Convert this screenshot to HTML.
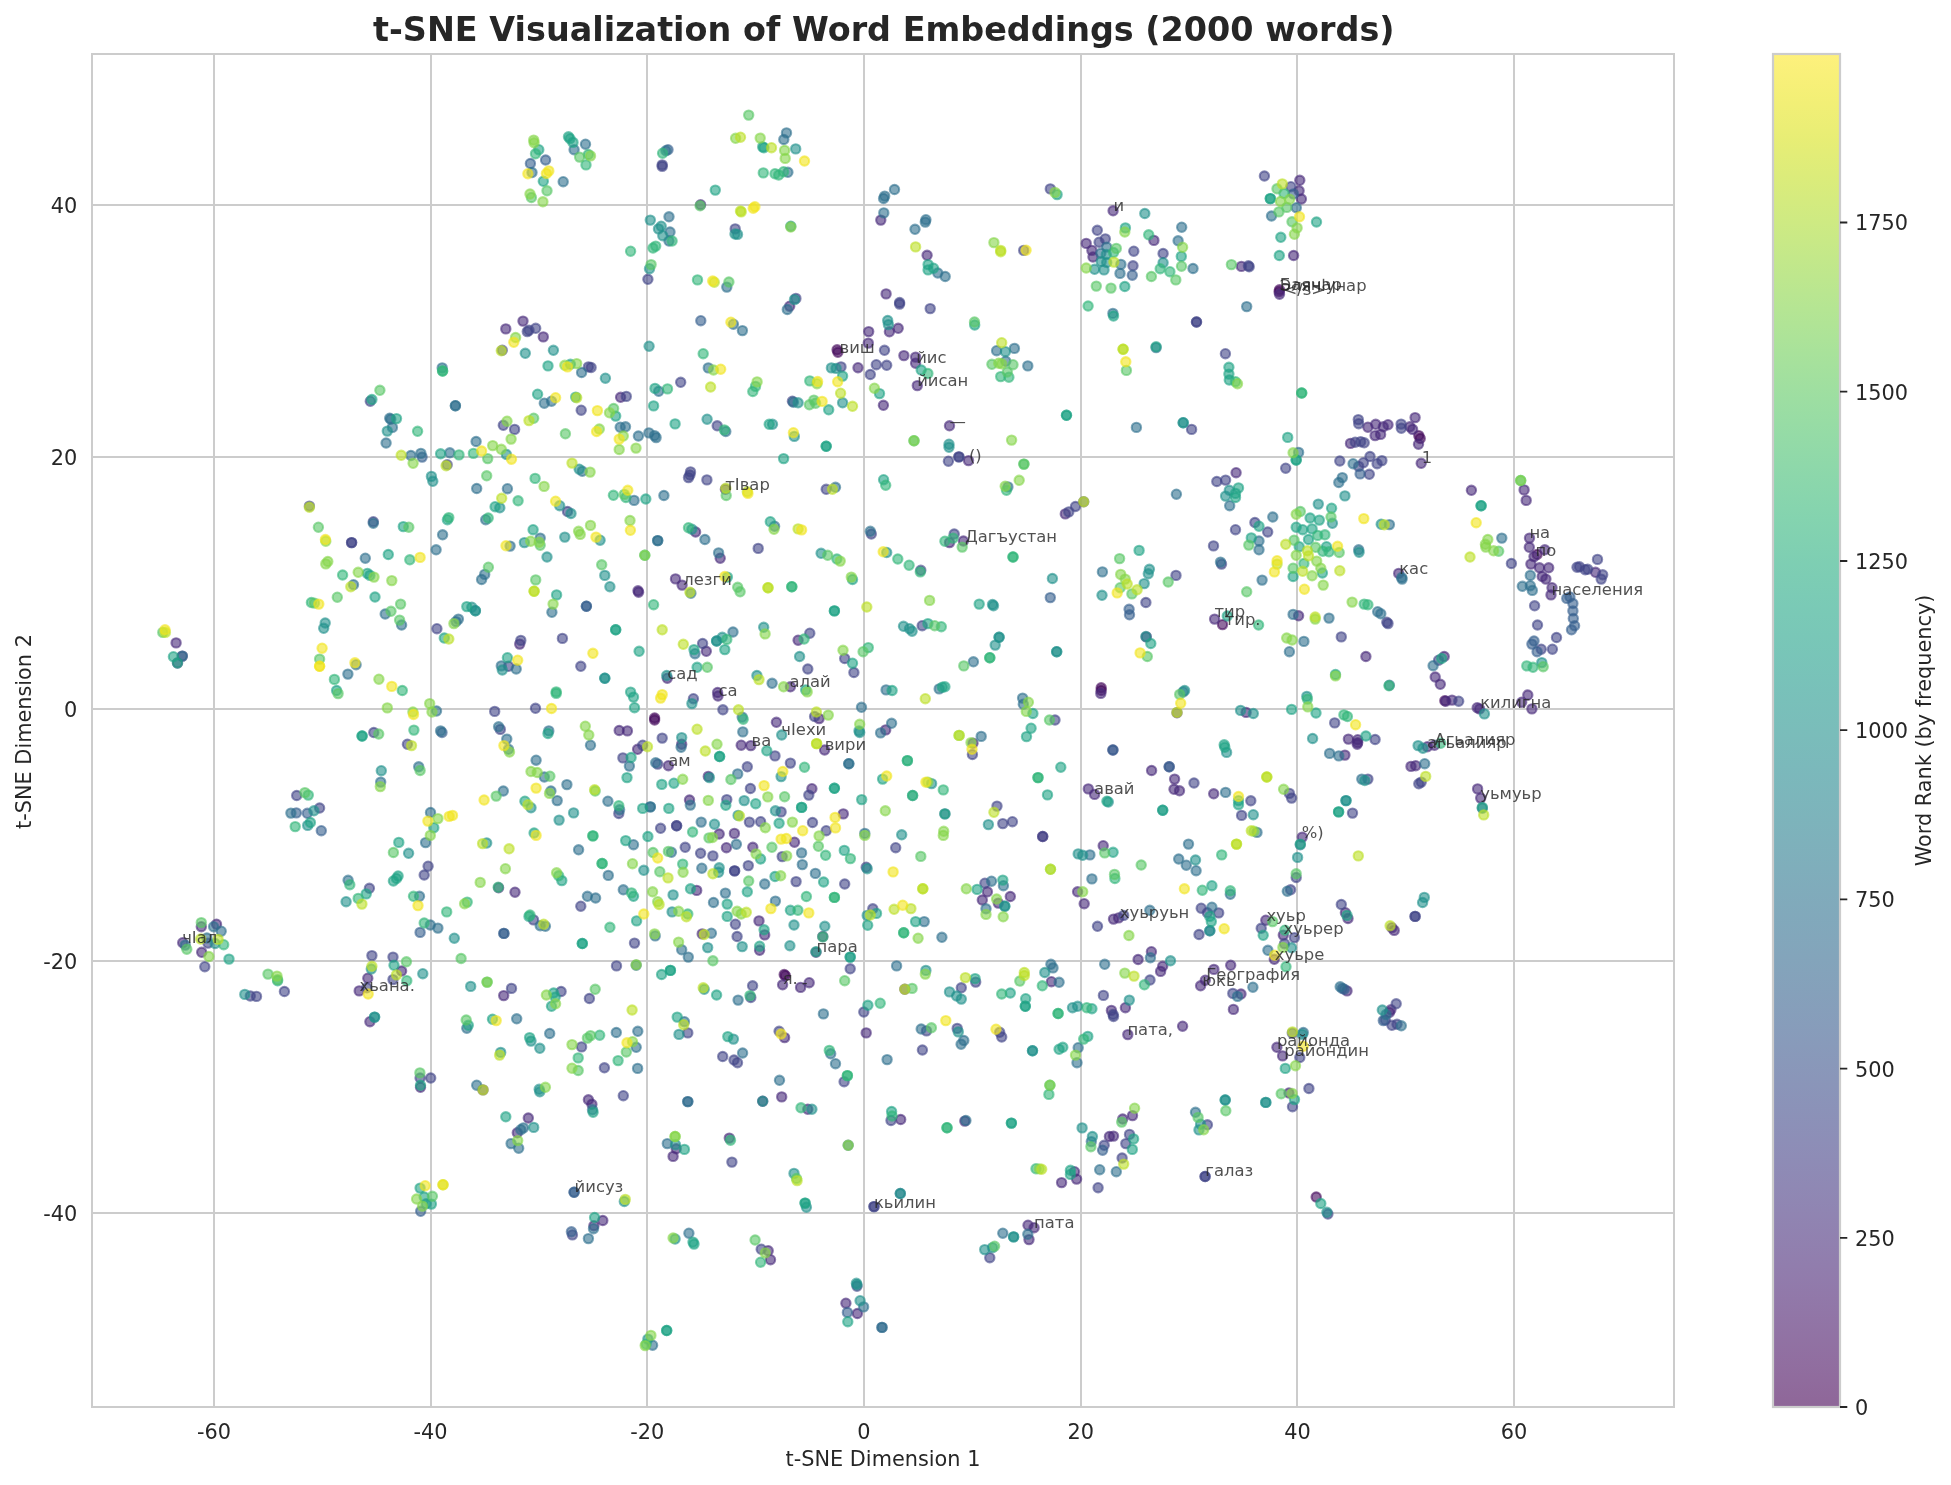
<!DOCTYPE html>
<html><head><meta charset="utf-8"><title>t-SNE Visualization of Word Embeddings</title>
<style>
html,body{margin:0;padding:0;background:#fff}
svg{display:block}
text{font-family:"DejaVu Sans","Liberation Sans",sans-serif;fill:#262626;filter:grayscale(1)}
.tk{font-size:20.83px}
.al{font-size:20.83px}
.an{font-size:16.4px;fill:#262626;fill-opacity:.8}
.p{fill:#460b5e;stroke:#460b5e}
.q{fill:#472a7a;stroke:#472a7a}
.i{fill:#414487;stroke:#414487}
.b{fill:#355f8d;stroke:#355f8d}
.s{fill:#2e6f8e;stroke:#2e6f8e}
.t{fill:#21918c;stroke:#21918c}
.e{fill:#20a386;stroke:#20a386}
.g{fill:#32b67a;stroke:#32b67a}
.m{fill:#58c765;stroke:#58c765}
.l{fill:#86d549;stroke:#86d549}
.k{fill:#bddf26;stroke:#bddf26}
.y{fill:#f1e51d;stroke:#f1e51d}
</style></head><body>
<svg width="1951" height="1485" viewBox="0 0 1951 1485">
<rect width="1951" height="1485" fill="#fff"/>
<defs><linearGradient id="cb" x1="0" y1="0" x2="0" y2="1"><stop offset="0.0000" stop-color="#fde725"/><stop offset="0.0312" stop-color="#ece51b"/><stop offset="0.0625" stop-color="#d8e219"/><stop offset="0.0938" stop-color="#c2df23"/><stop offset="0.1250" stop-color="#addc30"/><stop offset="0.1562" stop-color="#98d83e"/><stop offset="0.1875" stop-color="#84d44b"/><stop offset="0.2188" stop-color="#70cf57"/><stop offset="0.2500" stop-color="#5ec962"/><stop offset="0.2812" stop-color="#4ec36b"/><stop offset="0.3125" stop-color="#3fbc73"/><stop offset="0.3438" stop-color="#32b67a"/><stop offset="0.3750" stop-color="#28ae80"/><stop offset="0.4062" stop-color="#22a785"/><stop offset="0.4375" stop-color="#1fa088"/><stop offset="0.4688" stop-color="#1f988b"/><stop offset="0.5000" stop-color="#21918c"/><stop offset="0.5312" stop-color="#23898e"/><stop offset="0.5625" stop-color="#26828e"/><stop offset="0.5938" stop-color="#297a8e"/><stop offset="0.6250" stop-color="#2c728e"/><stop offset="0.6562" stop-color="#2f6b8e"/><stop offset="0.6875" stop-color="#33638d"/><stop offset="0.7188" stop-color="#375b8d"/><stop offset="0.7500" stop-color="#3b528b"/><stop offset="0.7812" stop-color="#3e4989"/><stop offset="0.8125" stop-color="#424086"/><stop offset="0.8438" stop-color="#453781"/><stop offset="0.8750" stop-color="#472d7b"/><stop offset="0.9062" stop-color="#482374"/><stop offset="0.9375" stop-color="#48186a"/><stop offset="0.9688" stop-color="#470d60"/><stop offset="1.0000" stop-color="#440154"/></linearGradient><clipPath id="cp"><rect x="92" y="54" width="1582" height="1353"/></clipPath></defs>
<path d="M214 54 V1407 M431 54 V1407 M647 54 V1407 M864 54 V1407 M1081 54 V1407 M1297 54 V1407 M1514 54 V1407 M92 1213 H1674 M92 961 H1674 M92 709 H1674 M92 457 H1674 M92 205 H1674" stroke="#cccccc" stroke-width="2" fill="none"/>
<g clip-path="url(#cp)" fill-opacity=".6" stroke-opacity=".6" stroke-width="2.08">
<circle class="p" cx="837.1" cy="349.8" r="4.66"/><circle class="p" cx="837.9" cy="352.3" r="4.66"/><circle class="p" cx="1279.5" cy="289.8" r="4.66"/><circle class="p" cx="1279.1" cy="291.8" r="4.66"/><circle class="p" cx="1222.5" cy="624.6" r="4.66"/><circle class="p" cx="1418.8" cy="435.6" r="4.66"/><circle class="p" cx="1420.2" cy="438.5" r="4.66"/><circle class="p" cx="1537.1" cy="554.5" r="4.66"/><circle class="p" cx="654.6" cy="718.0" r="4.66"/><circle class="p" cx="654.6" cy="720.0" r="4.66"/><circle class="p" cx="1101.2" cy="687.8" r="4.66"/><circle class="p" cx="1101.2" cy="690.5" r="4.66"/><circle class="p" cx="1444.8" cy="700.7" r="4.66"/><circle class="p" cx="784.2" cy="974.5" r="4.66"/><circle class="p" cx="785.4" cy="975.7" r="4.66"/><circle class="p" cx="1316.2" cy="1197.0" r="4.66"/><circle class="q" cx="700.6" cy="204.7" r="4.66"/><circle class="q" cx="880.8" cy="220.1" r="4.66"/><circle class="q" cx="789.7" cy="306.2" r="4.66"/><circle class="q" cx="523.0" cy="321.1" r="4.66"/><circle class="q" cx="505.8" cy="328.9" r="4.66"/><circle class="q" cx="543.3" cy="336.9" r="4.66"/><circle class="q" cx="886.1" cy="293.9" r="4.66"/><circle class="q" cx="868.7" cy="331.6" r="4.66"/><circle class="q" cx="889.4" cy="331.8" r="4.66"/><circle class="q" cx="868.3" cy="343.1" r="4.66"/><circle class="q" cx="1113.1" cy="210.8" r="4.66"/><circle class="q" cx="927.1" cy="255.3" r="4.66"/><circle class="q" cx="1153.9" cy="240.4" r="4.66"/><circle class="q" cx="1086.2" cy="243.4" r="4.66"/><circle class="q" cx="1091.9" cy="250.4" r="4.66"/><circle class="q" cx="1093.0" cy="257.0" r="4.66"/><circle class="q" cx="1241.4" cy="266.4" r="4.66"/><circle class="q" cx="1279.5" cy="294.3" r="4.66"/><circle class="q" cx="898.2" cy="328.3" r="4.66"/><circle class="q" cx="1299.8" cy="180.3" r="4.66"/><circle class="q" cx="1299.1" cy="190.8" r="4.66"/><circle class="q" cx="1301.4" cy="199.0" r="4.66"/><circle class="q" cx="1293.6" cy="255.5" r="4.66"/><circle class="q" cx="176.1" cy="642.9" r="4.66"/><circle class="q" cx="858.0" cy="367.7" r="4.66"/><circle class="q" cx="883.4" cy="405.3" r="4.66"/><circle class="q" cx="620.6" cy="397.3" r="4.66"/><circle class="q" cx="725.4" cy="489.3" r="4.66"/><circle class="q" cx="695.6" cy="532.0" r="4.66"/><circle class="q" cx="720.2" cy="558.2" r="4.66"/><circle class="q" cx="638.0" cy="590.8" r="4.66"/><circle class="q" cx="638.6" cy="592.2" r="4.66"/><circle class="q" cx="675.5" cy="578.9" r="4.66"/><circle class="q" cx="682.1" cy="585.1" r="4.66"/><circle class="q" cx="519.7" cy="644.1" r="4.66"/><circle class="q" cx="798.1" cy="640.2" r="4.66"/><circle class="q" cx="706.3" cy="651.3" r="4.66"/><circle class="q" cx="903.9" cy="355.6" r="4.66"/><circle class="q" cx="915.6" cy="357.1" r="4.66"/><circle class="q" cx="915.6" cy="363.2" r="4.66"/><circle class="q" cx="917.3" cy="385.6" r="4.66"/><circle class="q" cx="949.5" cy="425.8" r="4.66"/><circle class="q" cx="968.5" cy="460.6" r="4.66"/><circle class="q" cx="1065.3" cy="513.9" r="4.66"/><circle class="q" cx="1236.1" cy="472.7" r="4.66"/><circle class="q" cx="949.5" cy="542.6" r="4.66"/><circle class="q" cx="963.4" cy="541.0" r="4.66"/><circle class="q" cx="1214.6" cy="619.1" r="4.66"/><circle class="q" cx="1146.3" cy="636.9" r="4.66"/><circle class="q" cx="1367.9" cy="427.2" r="4.66"/><circle class="q" cx="1375.7" cy="424.3" r="4.66"/><circle class="q" cx="1383.3" cy="426.8" r="4.66"/><circle class="q" cx="1388.0" cy="424.7" r="4.66"/><circle class="q" cx="1375.1" cy="435.6" r="4.66"/><circle class="q" cx="1380.6" cy="434.4" r="4.66"/><circle class="q" cx="1409.9" cy="426.8" r="4.66"/><circle class="q" cx="1412.6" cy="429.4" r="4.66"/><circle class="q" cx="1415.1" cy="417.6" r="4.66"/><circle class="q" cx="1418.5" cy="444.2" r="4.66"/><circle class="q" cx="1350.5" cy="443.4" r="4.66"/><circle class="q" cx="1421.2" cy="463.3" r="4.66"/><circle class="q" cx="1471.4" cy="490.3" r="4.66"/><circle class="q" cx="1524.1" cy="489.9" r="4.66"/><circle class="q" cx="1526.2" cy="500.4" r="4.66"/><circle class="q" cx="1529.5" cy="538.1" r="4.66"/><circle class="q" cx="1529.3" cy="547.3" r="4.66"/><circle class="q" cx="1544.8" cy="549.8" r="4.66"/><circle class="q" cx="1534.0" cy="556.6" r="4.66"/><circle class="q" cx="1530.9" cy="564.1" r="4.66"/><circle class="q" cx="1539.5" cy="567.8" r="4.66"/><circle class="q" cx="1548.7" cy="567.8" r="4.66"/><circle class="q" cx="1542.2" cy="576.5" r="4.66"/><circle class="q" cx="1545.9" cy="579.1" r="4.66"/><circle class="q" cx="1552.0" cy="587.7" r="4.66"/><circle class="q" cx="1551.0" cy="594.9" r="4.66"/><circle class="q" cx="1595.5" cy="572.3" r="4.66"/><circle class="q" cx="1398.7" cy="573.4" r="4.66"/><circle class="q" cx="1298.6" cy="615.8" r="4.66"/><circle class="q" cx="182.3" cy="656.1" r="4.66"/><circle class="q" cx="177.5" cy="663.0" r="4.66"/><circle class="q" cx="201.3" cy="926.7" r="4.66"/><circle class="q" cx="216.5" cy="924.2" r="4.66"/><circle class="q" cx="182.7" cy="942.7" r="4.66"/><circle class="q" cx="201.7" cy="952.3" r="4.66"/><circle class="q" cx="667.3" cy="678.2" r="4.66"/><circle class="q" cx="790.4" cy="686.8" r="4.66"/><circle class="q" cx="717.6" cy="692.5" r="4.66"/><circle class="q" cx="718.0" cy="696.0" r="4.66"/><circle class="q" cx="819.1" cy="718.6" r="4.66"/><circle class="q" cx="776.4" cy="722.3" r="4.66"/><circle class="q" cx="619.2" cy="730.5" r="4.66"/><circle class="q" cx="627.4" cy="730.9" r="4.66"/><circle class="q" cx="681.7" cy="744.2" r="4.66"/><circle class="q" cx="741.2" cy="745.2" r="4.66"/><circle class="q" cx="750.8" cy="745.6" r="4.66"/><circle class="q" cx="824.6" cy="750.0" r="4.66"/><circle class="q" cx="885.7" cy="729.9" r="4.66"/><circle class="q" cx="637.6" cy="749.3" r="4.66"/><circle class="q" cx="668.4" cy="765.7" r="4.66"/><circle class="q" cx="708.3" cy="776.4" r="4.66"/><circle class="q" cx="811.9" cy="788.7" r="4.66"/><circle class="q" cx="689.5" cy="800.0" r="4.66"/><circle class="q" cx="843.3" cy="813.9" r="4.66"/><circle class="q" cx="719.2" cy="834.0" r="4.66"/><circle class="q" cx="734.4" cy="833.4" r="4.66"/><circle class="q" cx="794.5" cy="842.2" r="4.66"/><circle class="q" cx="726.4" cy="847.7" r="4.66"/><circle class="q" cx="752.8" cy="847.3" r="4.66"/><circle class="q" cx="498.6" cy="887.7" r="4.66"/><circle class="q" cx="515.0" cy="892.2" r="4.66"/><circle class="q" cx="696.7" cy="890.4" r="4.66"/><circle class="q" cx="759.0" cy="920.9" r="4.66"/><circle class="q" cx="764.7" cy="934.9" r="4.66"/><circle class="q" cx="822.8" cy="936.5" r="4.66"/><circle class="q" cx="702.2" cy="933.9" r="4.66"/><circle class="q" cx="759.6" cy="950.3" r="4.66"/><circle class="q" cx="816.0" cy="952.3" r="4.66"/><circle class="q" cx="1100.8" cy="693.4" r="4.66"/><circle class="q" cx="1177.0" cy="712.8" r="4.66"/><circle class="q" cx="1246.1" cy="712.4" r="4.66"/><circle class="q" cx="973.0" cy="743.2" r="4.66"/><circle class="q" cx="1151.6" cy="770.5" r="4.66"/><circle class="q" cx="1174.6" cy="779.1" r="4.66"/><circle class="q" cx="1174.0" cy="789.3" r="4.66"/><circle class="q" cx="1179.5" cy="790.8" r="4.66"/><circle class="q" cx="1088.3" cy="788.9" r="4.66"/><circle class="q" cx="1094.6" cy="794.4" r="4.66"/><circle class="q" cx="1213.7" cy="793.8" r="4.66"/><circle class="q" cx="1042.7" cy="836.5" r="4.66"/><circle class="q" cx="1103.2" cy="845.7" r="4.66"/><circle class="q" cx="987.4" cy="891.8" r="4.66"/><circle class="q" cx="1010.3" cy="896.5" r="4.66"/><circle class="q" cx="982.3" cy="900.0" r="4.66"/><circle class="q" cx="998.3" cy="903.1" r="4.66"/><circle class="q" cx="1077.6" cy="891.8" r="4.66"/><circle class="q" cx="1084.2" cy="903.7" r="4.66"/><circle class="q" cx="1113.5" cy="919.1" r="4.66"/><circle class="q" cx="1118.6" cy="917.9" r="4.66"/><circle class="q" cx="1151.4" cy="951.7" r="4.66"/><circle class="q" cx="1365.9" cy="656.5" r="4.66"/><circle class="q" cx="1444.2" cy="656.5" r="4.66"/><circle class="q" cx="1435.2" cy="677.0" r="4.66"/><circle class="q" cx="1440.3" cy="684.3" r="4.66"/><circle class="q" cx="1445.8" cy="701.2" r="4.66"/><circle class="q" cx="1452.0" cy="700.1" r="4.66"/><circle class="q" cx="1527.8" cy="695.0" r="4.66"/><circle class="q" cx="1521.7" cy="702.2" r="4.66"/><circle class="q" cx="1531.9" cy="708.9" r="4.66"/><circle class="q" cx="1477.2" cy="707.7" r="4.66"/><circle class="q" cx="1479.6" cy="708.9" r="4.66"/><circle class="q" cx="1348.4" cy="739.1" r="4.66"/><circle class="q" cx="1357.7" cy="739.7" r="4.66"/><circle class="q" cx="1357.7" cy="742.6" r="4.66"/><circle class="q" cx="1357.2" cy="744.2" r="4.66"/><circle class="q" cx="1344.9" cy="755.1" r="4.66"/><circle class="q" cx="1427.4" cy="746.7" r="4.66"/><circle class="q" cx="1434.5" cy="745.2" r="4.66"/><circle class="q" cx="1411.0" cy="766.4" r="4.66"/><circle class="q" cx="1415.7" cy="765.7" r="4.66"/><circle class="q" cx="1477.6" cy="788.9" r="4.66"/><circle class="q" cx="1480.7" cy="798.1" r="4.66"/><circle class="q" cx="1302.3" cy="837.1" r="4.66"/><circle class="q" cx="1345.4" cy="912.7" r="4.66"/><circle class="q" cx="1348.0" cy="918.5" r="4.66"/><circle class="q" cx="1391.9" cy="927.7" r="4.66"/><circle class="q" cx="1394.2" cy="930.4" r="4.66"/><circle class="q" cx="1265.8" cy="920.2" r="4.66"/><circle class="q" cx="1283.3" cy="935.1" r="4.66"/><circle class="q" cx="1274.3" cy="959.3" r="4.66"/><circle class="q" cx="401.6" cy="971.0" r="4.66"/><circle class="q" cx="367.8" cy="978.2" r="4.66"/><circle class="q" cx="359.2" cy="990.9" r="4.66"/><circle class="q" cx="369.9" cy="1021.7" r="4.66"/><circle class="q" cx="420.5" cy="1087.3" r="4.66"/><circle class="q" cx="483.0" cy="1089.9" r="4.66"/><circle class="q" cx="503.7" cy="995.6" r="4.66"/><circle class="q" cx="782.6" cy="984.8" r="4.66"/><circle class="q" cx="800.6" cy="987.4" r="4.66"/><circle class="q" cx="809.2" cy="982.7" r="4.66"/><circle class="q" cx="784.6" cy="1037.6" r="4.66"/><circle class="q" cx="866.2" cy="1032.9" r="4.66"/><circle class="q" cx="588.4" cy="1099.8" r="4.66"/><circle class="q" cx="591.9" cy="1104.3" r="4.66"/><circle class="q" cx="762.7" cy="1101.2" r="4.66"/><circle class="q" cx="781.7" cy="1096.9" r="4.66"/><circle class="q" cx="807.8" cy="1109.2" r="4.66"/><circle class="q" cx="528.3" cy="1118.0" r="4.66"/><circle class="q" cx="517.3" cy="1132.8" r="4.66"/><circle class="q" cx="676.2" cy="1148.8" r="4.66"/><circle class="q" cx="673.1" cy="1156.4" r="4.66"/><circle class="q" cx="729.3" cy="1138.1" r="4.66"/><circle class="q" cx="602.8" cy="1220.5" r="4.66"/><circle class="q" cx="593.9" cy="1225.7" r="4.66"/><circle class="q" cx="768.2" cy="1250.7" r="4.66"/><circle class="q" cx="904.8" cy="989.3" r="4.66"/><circle class="q" cx="1051.4" cy="981.7" r="4.66"/><circle class="q" cx="1138.1" cy="959.5" r="4.66"/><circle class="q" cx="1162.7" cy="966.3" r="4.66"/><circle class="q" cx="1160.6" cy="971.4" r="4.66"/><circle class="q" cx="1213.9" cy="969.4" r="4.66"/><circle class="q" cx="1230.7" cy="965.3" r="4.66"/><circle class="q" cx="1205.3" cy="980.2" r="4.66"/><circle class="q" cx="1200.6" cy="985.8" r="4.66"/><circle class="q" cx="1125.4" cy="1007.7" r="4.66"/><circle class="q" cx="1111.4" cy="1010.4" r="4.66"/><circle class="q" cx="1241.0" cy="994.0" r="4.66"/><circle class="q" cx="1233.4" cy="1009.4" r="4.66"/><circle class="q" cx="1182.6" cy="1026.2" r="4.66"/><circle class="q" cx="1127.8" cy="1034.6" r="4.66"/><circle class="q" cx="900.7" cy="1119.5" r="4.66"/><circle class="q" cx="964.8" cy="1121.1" r="4.66"/><circle class="q" cx="1276.9" cy="1047.3" r="4.66"/><circle class="q" cx="1282.6" cy="1055.9" r="4.66"/><circle class="q" cx="1132.5" cy="1115.6" r="4.66"/><circle class="q" cx="1122.7" cy="1119.0" r="4.66"/><circle class="q" cx="1109.4" cy="1136.5" r="4.66"/><circle class="q" cx="1113.5" cy="1136.1" r="4.66"/><circle class="q" cx="1074.5" cy="1171.7" r="4.66"/><circle class="q" cx="1076.6" cy="1179.1" r="4.66"/><circle class="q" cx="1061.6" cy="1182.6" r="4.66"/><circle class="q" cx="1028.0" cy="1225.2" r="4.66"/><circle class="q" cx="1034.1" cy="1227.7" r="4.66"/><circle class="q" cx="1029.0" cy="1239.6" r="4.66"/><circle class="q" cx="1289.0" cy="1093.0" r="4.66"/><circle class="q" cx="1347.0" cy="990.9" r="4.66"/><circle class="q" cx="1390.9" cy="1009.8" r="4.66"/><circle class="q" cx="1389.4" cy="1012.4" r="4.66"/><circle class="q" cx="770.5" cy="1259.7" r="4.66"/><circle class="q" cx="845.9" cy="1303.2" r="4.66"/><circle class="q" cx="857.4" cy="1313.5" r="4.66"/><circle class="i" cx="662.2" cy="164.9" r="4.66"/><circle class="i" cx="662.2" cy="166.4" r="4.66"/><circle class="i" cx="647.9" cy="279.3" r="4.66"/><circle class="i" cx="735.2" cy="228.9" r="4.66"/><circle class="i" cx="795.9" cy="298.4" r="4.66"/><circle class="i" cx="535.7" cy="328.3" r="4.66"/><circle class="i" cx="529.0" cy="330.2" r="4.66"/><circle class="i" cx="527.3" cy="331.6" r="4.66"/><circle class="i" cx="502.3" cy="350.3" r="4.66"/><circle class="i" cx="884.5" cy="350.3" r="4.66"/><circle class="i" cx="1050.3" cy="188.9" r="4.66"/><circle class="i" cx="1023.7" cy="250.4" r="4.66"/><circle class="i" cx="1097.3" cy="230.3" r="4.66"/><circle class="i" cx="1105.3" cy="238.9" r="4.66"/><circle class="i" cx="1099.1" cy="242.2" r="4.66"/><circle class="i" cx="1133.8" cy="251.2" r="4.66"/><circle class="i" cx="1163.1" cy="253.5" r="4.66"/><circle class="i" cx="1133.0" cy="265.8" r="4.66"/><circle class="i" cx="1248.4" cy="265.8" r="4.66"/><circle class="i" cx="1249.2" cy="266.8" r="4.66"/><circle class="i" cx="1196.5" cy="322.0" r="4.66"/><circle class="i" cx="1196.5" cy="322.0" r="4.66"/><circle class="i" cx="899.6" cy="302.5" r="4.66"/><circle class="i" cx="899.6" cy="304.1" r="4.66"/><circle class="i" cx="930.2" cy="308.6" r="4.66"/><circle class="i" cx="1225.4" cy="353.7" r="4.66"/><circle class="i" cx="1264.4" cy="176.0" r="4.66"/><circle class="i" cx="1290.9" cy="186.7" r="4.66"/><circle class="i" cx="370.3" cy="401.2" r="4.66"/><circle class="i" cx="447.2" cy="464.7" r="4.66"/><circle class="i" cx="309.4" cy="506.1" r="4.66"/><circle class="i" cx="351.6" cy="542.6" r="4.66"/><circle class="i" cx="351.6" cy="542.6" r="4.66"/><circle class="i" cx="373.3" cy="521.7" r="4.66"/><circle class="i" cx="436.9" cy="628.7" r="4.66"/><circle class="i" cx="588.4" cy="366.9" r="4.66"/><circle class="i" cx="591.1" cy="367.5" r="4.66"/><circle class="i" cx="680.7" cy="382.3" r="4.66"/><circle class="i" cx="841.0" cy="366.9" r="4.66"/><circle class="i" cx="876.3" cy="364.7" r="4.66"/><circle class="i" cx="886.7" cy="365.3" r="4.66"/><circle class="i" cx="870.3" cy="374.5" r="4.66"/><circle class="i" cx="581.2" cy="410.2" r="4.66"/><circle class="i" cx="626.3" cy="396.4" r="4.66"/><circle class="i" cx="792.4" cy="401.2" r="4.66"/><circle class="i" cx="503.3" cy="425.3" r="4.66"/><circle class="i" cx="514.6" cy="429.4" r="4.66"/><circle class="i" cx="717.2" cy="425.8" r="4.66"/><circle class="i" cx="690.5" cy="471.9" r="4.66"/><circle class="i" cx="689.9" cy="475.0" r="4.66"/><circle class="i" cx="688.5" cy="477.6" r="4.66"/><circle class="i" cx="706.9" cy="479.9" r="4.66"/><circle class="i" cx="826.2" cy="489.3" r="4.66"/><circle class="i" cx="567.5" cy="511.5" r="4.66"/><circle class="i" cx="871.3" cy="534.0" r="4.66"/><circle class="i" cx="758.2" cy="548.4" r="4.66"/><circle class="i" cx="562.4" cy="638.4" r="4.66"/><circle class="i" cx="520.8" cy="640.4" r="4.66"/><circle class="i" cx="702.6" cy="643.5" r="4.66"/><circle class="i" cx="809.8" cy="633.2" r="4.66"/><circle class="i" cx="1191.6" cy="429.4" r="4.66"/><circle class="i" cx="948.4" cy="461.2" r="4.66"/><circle class="i" cx="958.9" cy="456.9" r="4.66"/><circle class="i" cx="958.9" cy="456.9" r="4.66"/><circle class="i" cx="1075.5" cy="506.5" r="4.66"/><circle class="i" cx="1083.7" cy="501.8" r="4.66"/><circle class="i" cx="1068.8" cy="511.9" r="4.66"/><circle class="i" cx="1216.8" cy="481.5" r="4.66"/><circle class="i" cx="1225.6" cy="480.1" r="4.66"/><circle class="i" cx="1285.7" cy="468.2" r="4.66"/><circle class="i" cx="1254.9" cy="522.5" r="4.66"/><circle class="i" cx="1235.5" cy="529.7" r="4.66"/><circle class="i" cx="1267.7" cy="532.0" r="4.66"/><circle class="i" cx="1213.5" cy="545.9" r="4.66"/><circle class="i" cx="954.2" cy="534.0" r="4.66"/><circle class="i" cx="920.8" cy="570.3" r="4.66"/><circle class="i" cx="1221.5" cy="564.1" r="4.66"/><circle class="i" cx="1176.0" cy="575.4" r="4.66"/><circle class="i" cx="1145.9" cy="602.5" r="4.66"/><circle class="i" cx="922.2" cy="625.7" r="4.66"/><circle class="i" cx="1358.3" cy="419.6" r="4.66"/><circle class="i" cx="1358.7" cy="423.7" r="4.66"/><circle class="i" cx="1401.1" cy="424.1" r="4.66"/><circle class="i" cx="1401.3" cy="428.2" r="4.66"/><circle class="i" cx="1355.2" cy="442.2" r="4.66"/><circle class="i" cx="1360.7" cy="441.7" r="4.66"/><circle class="i" cx="1364.2" cy="442.8" r="4.66"/><circle class="i" cx="1339.8" cy="461.0" r="4.66"/><circle class="i" cx="1358.7" cy="466.4" r="4.66"/><circle class="i" cx="1363.4" cy="462.7" r="4.66"/><circle class="i" cx="1370.0" cy="456.5" r="4.66"/><circle class="i" cx="1377.1" cy="463.7" r="4.66"/><circle class="i" cx="1381.9" cy="460.6" r="4.66"/><circle class="i" cx="1369.3" cy="474.3" r="4.66"/><circle class="i" cx="1511.4" cy="563.5" r="4.66"/><circle class="i" cx="1597.5" cy="559.4" r="4.66"/><circle class="i" cx="1577.0" cy="567.2" r="4.66"/><circle class="i" cx="1579.5" cy="566.8" r="4.66"/><circle class="i" cx="1585.2" cy="569.7" r="4.66"/><circle class="i" cx="1587.7" cy="569.3" r="4.66"/><circle class="i" cx="1602.7" cy="574.8" r="4.66"/><circle class="i" cx="1601.2" cy="579.1" r="4.66"/><circle class="i" cx="1534.6" cy="605.8" r="4.66"/><circle class="i" cx="1537.5" cy="625.0" r="4.66"/><circle class="i" cx="1556.5" cy="637.5" r="4.66"/><circle class="i" cx="1541.2" cy="649.2" r="4.66"/><circle class="i" cx="1552.4" cy="649.2" r="4.66"/><circle class="i" cx="1386.8" cy="622.2" r="4.66"/><circle class="i" cx="1388.0" cy="623.6" r="4.66"/><circle class="i" cx="1341.3" cy="636.9" r="4.66"/><circle class="i" cx="373.8" cy="732.5" r="4.66"/><circle class="i" cx="407.4" cy="744.2" r="4.66"/><circle class="i" cx="296.7" cy="795.5" r="4.66"/><circle class="i" cx="319.6" cy="808.0" r="4.66"/><circle class="i" cx="428.1" cy="866.2" r="4.66"/><circle class="i" cx="424.2" cy="875.0" r="4.66"/><circle class="i" cx="369.4" cy="888.3" r="4.66"/><circle class="i" cx="207.9" cy="943.1" r="4.66"/><circle class="i" cx="508.5" cy="666.3" r="4.66"/><circle class="i" cx="580.8" cy="666.3" r="4.66"/><circle class="i" cx="807.8" cy="669.0" r="4.66"/><circle class="i" cx="844.7" cy="658.5" r="4.66"/><circle class="i" cx="853.9" cy="672.5" r="4.66"/><circle class="i" cx="693.4" cy="698.7" r="4.66"/><circle class="i" cx="722.9" cy="709.8" r="4.66"/><circle class="i" cx="494.7" cy="711.4" r="4.66"/><circle class="i" cx="535.5" cy="708.3" r="4.66"/><circle class="i" cx="814.6" cy="716.5" r="4.66"/><circle class="i" cx="500.3" cy="729.4" r="4.66"/><circle class="i" cx="662.2" cy="738.1" r="4.66"/><circle class="i" cx="775.0" cy="755.9" r="4.66"/><circle class="i" cx="642.7" cy="745.2" r="4.66"/><circle class="i" cx="622.9" cy="757.9" r="4.66"/><circle class="i" cx="657.7" cy="764.1" r="4.66"/><circle class="i" cx="747.3" cy="766.8" r="4.66"/><circle class="i" cx="790.4" cy="763.1" r="4.66"/><circle class="i" cx="750.4" cy="788.5" r="4.66"/><circle class="i" cx="808.8" cy="795.1" r="4.66"/><circle class="i" cx="618.8" cy="813.5" r="4.66"/><circle class="i" cx="726.8" cy="799.6" r="4.66"/><circle class="i" cx="781.1" cy="811.9" r="4.66"/><circle class="i" cx="749.4" cy="822.1" r="4.66"/><circle class="i" cx="760.6" cy="821.7" r="4.66"/><circle class="i" cx="812.5" cy="822.5" r="4.66"/><circle class="i" cx="660.6" cy="828.3" r="4.66"/><circle class="i" cx="676.6" cy="825.8" r="4.66"/><circle class="i" cx="676.6" cy="825.8" r="4.66"/><circle class="i" cx="826.2" cy="830.7" r="4.66"/><circle class="i" cx="685.2" cy="847.3" r="4.66"/><circle class="i" cx="700.6" cy="853.3" r="4.66"/><circle class="i" cx="712.9" cy="855.9" r="4.66"/><circle class="i" cx="782.2" cy="856.6" r="4.66"/><circle class="i" cx="734.6" cy="870.9" r="4.66"/><circle class="i" cx="734.6" cy="870.9" r="4.66"/><circle class="i" cx="748.3" cy="865.6" r="4.66"/><circle class="i" cx="866.2" cy="867.2" r="4.66"/><circle class="i" cx="796.1" cy="881.6" r="4.66"/><circle class="i" cx="844.7" cy="884.0" r="4.66"/><circle class="i" cx="580.8" cy="906.2" r="4.66"/><circle class="i" cx="872.8" cy="908.8" r="4.66"/><circle class="i" cx="533.5" cy="919.9" r="4.66"/><circle class="i" cx="735.4" cy="924.2" r="4.66"/><circle class="i" cx="737.1" cy="936.5" r="4.66"/><circle class="i" cx="634.5" cy="943.1" r="4.66"/><circle class="i" cx="1055.0" cy="720.0" r="4.66"/><circle class="i" cx="972.4" cy="754.5" r="4.66"/><circle class="i" cx="1112.9" cy="750.0" r="4.66"/><circle class="i" cx="1169.2" cy="766.8" r="4.66"/><circle class="i" cx="1194.0" cy="783.0" r="4.66"/><circle class="i" cx="1250.8" cy="800.8" r="4.66"/><circle class="i" cx="1241.6" cy="815.4" r="4.66"/><circle class="i" cx="997.0" cy="806.1" r="4.66"/><circle class="i" cx="1002.8" cy="823.6" r="4.66"/><circle class="i" cx="1012.4" cy="821.7" r="4.66"/><circle class="i" cx="895.7" cy="847.7" r="4.66"/><circle class="i" cx="1042.7" cy="836.5" r="4.66"/><circle class="i" cx="984.9" cy="883.2" r="4.66"/><circle class="i" cx="1123.7" cy="915.4" r="4.66"/><circle class="i" cx="1097.5" cy="926.3" r="4.66"/><circle class="i" cx="1201.2" cy="908.2" r="4.66"/><circle class="i" cx="1218.7" cy="912.9" r="4.66"/><circle class="i" cx="1207.4" cy="912.7" r="4.66"/><circle class="i" cx="1199.0" cy="934.5" r="4.66"/><circle class="i" cx="1289.4" cy="793.4" r="4.66"/><circle class="i" cx="1438.6" cy="660.2" r="4.66"/><circle class="i" cx="1458.7" cy="701.2" r="4.66"/><circle class="i" cx="1334.7" cy="722.9" r="4.66"/><circle class="i" cx="1375.1" cy="739.5" r="4.66"/><circle class="i" cx="1421.2" cy="782.1" r="4.66"/><circle class="i" cx="1418.8" cy="783.8" r="4.66"/><circle class="i" cx="1367.9" cy="779.1" r="4.66"/><circle class="i" cx="1291.6" cy="798.1" r="4.66"/><circle class="i" cx="1352.5" cy="813.1" r="4.66"/><circle class="i" cx="1296.2" cy="877.5" r="4.66"/><circle class="i" cx="1290.6" cy="889.8" r="4.66"/><circle class="i" cx="1415.1" cy="916.4" r="4.66"/><circle class="i" cx="1415.1" cy="916.4" r="4.66"/><circle class="i" cx="1341.3" cy="904.5" r="4.66"/><circle class="i" cx="1261.2" cy="928.3" r="4.66"/><circle class="i" cx="1294.4" cy="937.6" r="4.66"/><circle class="i" cx="1284.5" cy="943.7" r="4.66"/><circle class="i" cx="204.8" cy="966.7" r="4.66"/><circle class="i" cx="371.9" cy="955.6" r="4.66"/><circle class="i" cx="393.0" cy="957.1" r="4.66"/><circle class="i" cx="284.4" cy="991.5" r="4.66"/><circle class="i" cx="250.3" cy="996.0" r="4.66"/><circle class="i" cx="256.5" cy="996.4" r="4.66"/><circle class="i" cx="393.0" cy="979.6" r="4.66"/><circle class="i" cx="366.8" cy="987.8" r="4.66"/><circle class="i" cx="420.1" cy="1078.0" r="4.66"/><circle class="i" cx="430.7" cy="1078.0" r="4.66"/><circle class="i" cx="850.2" cy="968.8" r="4.66"/><circle class="i" cx="616.5" cy="965.9" r="4.66"/><circle class="i" cx="511.5" cy="988.4" r="4.66"/><circle class="i" cx="561.1" cy="991.5" r="4.66"/><circle class="i" cx="589.4" cy="998.5" r="4.66"/><circle class="i" cx="752.6" cy="985.8" r="4.66"/><circle class="i" cx="750.8" cy="997.5" r="4.66"/><circle class="i" cx="863.8" cy="1012.0" r="4.66"/><circle class="i" cx="687.8" cy="1032.9" r="4.66"/><circle class="i" cx="581.6" cy="1046.9" r="4.66"/><circle class="i" cx="604.4" cy="1067.8" r="4.66"/><circle class="i" cx="779.1" cy="1031.3" r="4.66"/><circle class="i" cx="722.7" cy="1056.5" r="4.66"/><circle class="i" cx="734.0" cy="1060.0" r="4.66"/><circle class="i" cx="737.5" cy="1062.7" r="4.66"/><circle class="i" cx="844.1" cy="1081.7" r="4.66"/><circle class="i" cx="623.3" cy="1095.7" r="4.66"/><circle class="i" cx="731.9" cy="1162.1" r="4.66"/><circle class="i" cx="874.0" cy="1206.6" r="4.66"/><circle class="i" cx="874.0" cy="1206.6" r="4.66"/><circle class="i" cx="572.4" cy="1234.9" r="4.66"/><circle class="i" cx="761.2" cy="1249.2" r="4.66"/><circle class="i" cx="975.7" cy="982.1" r="4.66"/><circle class="i" cx="961.3" cy="987.8" r="4.66"/><circle class="i" cx="1150.0" cy="980.0" r="4.66"/><circle class="i" cx="1103.4" cy="995.4" r="4.66"/><circle class="i" cx="1113.1" cy="1014.5" r="4.66"/><circle class="i" cx="1113.5" cy="1016.5" r="4.66"/><circle class="i" cx="1232.8" cy="993.4" r="4.66"/><circle class="i" cx="926.5" cy="1030.9" r="4.66"/><circle class="i" cx="957.2" cy="1028.4" r="4.66"/><circle class="i" cx="999.7" cy="1032.3" r="4.66"/><circle class="i" cx="1001.7" cy="1037.0" r="4.66"/><circle class="i" cx="922.4" cy="1050.0" r="4.66"/><circle class="i" cx="891.0" cy="1120.5" r="4.66"/><circle class="i" cx="1207.4" cy="1124.8" r="4.66"/><circle class="i" cx="1129.5" cy="1134.4" r="4.66"/><circle class="i" cx="1125.8" cy="1143.6" r="4.66"/><circle class="i" cx="1104.2" cy="1145.3" r="4.66"/><circle class="i" cx="1122.1" cy="1158.0" r="4.66"/><circle class="i" cx="1098.1" cy="1187.7" r="4.66"/><circle class="i" cx="1205.1" cy="1176.5" r="4.66"/><circle class="i" cx="1205.1" cy="1176.5" r="4.66"/><circle class="i" cx="1396.2" cy="1003.8" r="4.66"/><circle class="i" cx="1385.3" cy="1020.0" r="4.66"/><circle class="i" cx="1391.9" cy="1025.3" r="4.66"/><circle class="i" cx="1397.0" cy="1024.3" r="4.66"/><circle class="i" cx="1292.3" cy="1033.1" r="4.66"/><circle class="i" cx="1299.8" cy="1057.5" r="4.66"/><circle class="i" cx="1308.9" cy="1088.5" r="4.66"/><circle class="i" cx="1292.5" cy="1106.7" r="4.66"/><circle class="i" cx="1327.9" cy="1214.0" r="4.66"/><circle class="i" cx="857.0" cy="1286.2" r="4.66"/><circle class="i" cx="989.8" cy="1257.7" r="4.66"/><circle class="b" cx="530.4" cy="163.5" r="4.66"/><circle class="b" cx="545.6" cy="160.0" r="4.66"/><circle class="b" cx="668.0" cy="149.7" r="4.66"/><circle class="b" cx="700.8" cy="320.7" r="4.66"/><circle class="b" cx="1132.3" cy="275.2" r="4.66"/><circle class="b" cx="1293.4" cy="193.9" r="4.66"/><circle class="b" cx="422.1" cy="457.1" r="4.66"/><circle class="b" cx="586.4" cy="606.2" r="4.66"/><circle class="b" cx="586.4" cy="606.2" r="4.66"/><circle class="b" cx="1050.3" cy="597.6" r="4.66"/><circle class="b" cx="1129.1" cy="609.3" r="4.66"/><circle class="b" cx="1129.5" cy="614.8" r="4.66"/><circle class="b" cx="1360.1" cy="473.9" r="4.66"/><circle class="b" cx="1566.8" cy="598.4" r="4.66"/><circle class="b" cx="1569.9" cy="597.0" r="4.66"/><circle class="b" cx="1572.9" cy="603.5" r="4.66"/><circle class="b" cx="1572.9" cy="610.9" r="4.66"/><circle class="b" cx="1573.3" cy="618.5" r="4.66"/><circle class="b" cx="1574.6" cy="625.7" r="4.66"/><circle class="b" cx="1571.5" cy="629.8" r="4.66"/><circle class="b" cx="1534.0" cy="641.0" r="4.66"/><circle class="b" cx="1531.9" cy="644.1" r="4.66"/><circle class="b" cx="1537.1" cy="651.7" r="4.66"/><circle class="b" cx="442.0" cy="732.5" r="4.66"/><circle class="b" cx="296.3" cy="812.9" r="4.66"/><circle class="b" cx="307.3" cy="813.3" r="4.66"/><circle class="b" cx="321.3" cy="830.7" r="4.66"/><circle class="b" cx="420.1" cy="932.4" r="4.66"/><circle class="b" cx="503.9" cy="933.4" r="4.66"/><circle class="b" cx="503.9" cy="933.4" r="4.66"/><circle class="b" cx="1112.9" cy="750.0" r="4.66"/><circle class="b" cx="1169.2" cy="766.8" r="4.66"/><circle class="b" cx="420.7" cy="1211.3" r="4.66"/><circle class="b" cx="687.8" cy="1101.6" r="4.66"/><circle class="b" cx="574.1" cy="1192.2" r="4.66"/><circle class="b" cx="574.1" cy="1192.2" r="4.66"/><circle class="b" cx="571.4" cy="1231.8" r="4.66"/><circle class="b" cx="1102.6" cy="1150.2" r="4.66"/><circle class="b" cx="1342.3" cy="988.4" r="4.66"/><circle class="b" cx="1344.3" cy="989.3" r="4.66"/><circle class="b" cx="1383.3" cy="1020.6" r="4.66"/><circle class="b" cx="847.4" cy="1312.4" r="4.66"/><circle class="b" cx="882.0" cy="1327.4" r="4.66"/><circle class="s" cx="532.0" cy="172.5" r="4.66"/><circle class="s" cx="563.2" cy="181.7" r="4.66"/><circle class="s" cx="574.1" cy="149.7" r="4.66"/><circle class="s" cx="585.5" cy="144.2" r="4.66"/><circle class="s" cx="665.9" cy="150.8" r="4.66"/><circle class="s" cx="786.5" cy="132.9" r="4.66"/><circle class="s" cx="783.8" cy="139.5" r="4.66"/><circle class="s" cx="787.9" cy="172.3" r="4.66"/><circle class="s" cx="884.7" cy="196.1" r="4.66"/><circle class="s" cx="883.6" cy="198.5" r="4.66"/><circle class="s" cx="883.8" cy="212.9" r="4.66"/><circle class="s" cx="669.0" cy="216.8" r="4.66"/><circle class="s" cx="670.0" cy="232.0" r="4.66"/><circle class="s" cx="669.0" cy="241.0" r="4.66"/><circle class="s" cx="726.8" cy="287.1" r="4.66"/><circle class="s" cx="787.3" cy="309.5" r="4.66"/><circle class="s" cx="733.4" cy="324.2" r="4.66"/><circle class="s" cx="742.4" cy="330.6" r="4.66"/><circle class="s" cx="894.5" cy="189.5" r="4.66"/><circle class="s" cx="925.9" cy="219.7" r="4.66"/><circle class="s" cx="925.3" cy="222.1" r="4.66"/><circle class="s" cx="915.0" cy="229.3" r="4.66"/><circle class="s" cx="937.8" cy="273.0" r="4.66"/><circle class="s" cx="945.2" cy="276.5" r="4.66"/><circle class="s" cx="1181.7" cy="227.2" r="4.66"/><circle class="s" cx="1178.1" cy="240.8" r="4.66"/><circle class="s" cx="1106.7" cy="247.1" r="4.66"/><circle class="s" cx="1100.8" cy="253.3" r="4.66"/><circle class="s" cx="1120.9" cy="264.4" r="4.66"/><circle class="s" cx="1193.0" cy="268.5" r="4.66"/><circle class="s" cx="1120.0" cy="273.4" r="4.66"/><circle class="s" cx="1246.7" cy="306.6" r="4.66"/><circle class="s" cx="1112.9" cy="313.4" r="4.66"/><circle class="s" cx="1014.4" cy="348.4" r="4.66"/><circle class="s" cx="996.6" cy="350.7" r="4.66"/><circle class="s" cx="1156.1" cy="347.6" r="4.66"/><circle class="s" cx="1296.3" cy="207.7" r="4.66"/><circle class="s" cx="1271.5" cy="216.0" r="4.66"/><circle class="s" cx="442.2" cy="367.9" r="4.66"/><circle class="s" cx="455.4" cy="405.7" r="4.66"/><circle class="s" cx="455.4" cy="405.7" r="4.66"/><circle class="s" cx="389.7" cy="418.2" r="4.66"/><circle class="s" cx="390.8" cy="419.2" r="4.66"/><circle class="s" cx="392.4" cy="427.4" r="4.66"/><circle class="s" cx="386.1" cy="443.0" r="4.66"/><circle class="s" cx="476.1" cy="441.5" r="4.66"/><circle class="s" cx="410.9" cy="455.5" r="4.66"/><circle class="s" cx="420.9" cy="453.4" r="4.66"/><circle class="s" cx="449.8" cy="452.8" r="4.66"/><circle class="s" cx="476.7" cy="488.5" r="4.66"/><circle class="s" cx="373.3" cy="523.3" r="4.66"/><circle class="s" cx="485.7" cy="519.7" r="4.66"/><circle class="s" cx="442.6" cy="534.8" r="4.66"/><circle class="s" cx="436.1" cy="549.8" r="4.66"/><circle class="s" cx="365.3" cy="558.2" r="4.66"/><circle class="s" cx="353.5" cy="584.7" r="4.66"/><circle class="s" cx="484.7" cy="574.4" r="4.66"/><circle class="s" cx="481.6" cy="579.5" r="4.66"/><circle class="s" cx="385.2" cy="614.0" r="4.66"/><circle class="s" cx="401.6" cy="625.0" r="4.66"/><circle class="s" cx="458.4" cy="619.1" r="4.66"/><circle class="s" cx="456.0" cy="621.6" r="4.66"/><circle class="s" cx="581.6" cy="372.5" r="4.66"/><circle class="s" cx="708.3" cy="367.9" r="4.66"/><circle class="s" cx="658.7" cy="391.3" r="4.66"/><circle class="s" cx="544.3" cy="403.2" r="4.66"/><circle class="s" cx="551.5" cy="401.2" r="4.66"/><circle class="s" cx="793.4" cy="402.2" r="4.66"/><circle class="s" cx="620.2" cy="427.2" r="4.66"/><circle class="s" cx="625.5" cy="426.8" r="4.66"/><circle class="s" cx="638.4" cy="436.0" r="4.66"/><circle class="s" cx="648.9" cy="432.9" r="4.66"/><circle class="s" cx="654.6" cy="435.6" r="4.66"/><circle class="s" cx="656.1" cy="437.6" r="4.66"/><circle class="s" cx="725.8" cy="431.5" r="4.66"/><circle class="s" cx="582.3" cy="471.3" r="4.66"/><circle class="s" cx="507.4" cy="488.7" r="4.66"/><circle class="s" cx="835.5" cy="487.3" r="4.66"/><circle class="s" cx="634.1" cy="500.4" r="4.66"/><circle class="s" cx="663.9" cy="495.5" r="4.66"/><circle class="s" cx="540.2" cy="538.1" r="4.66"/><circle class="s" cx="510.1" cy="546.1" r="4.66"/><circle class="s" cx="704.9" cy="539.5" r="4.66"/><circle class="s" cx="657.7" cy="540.6" r="4.66"/><circle class="s" cx="657.7" cy="540.6" r="4.66"/><circle class="s" cx="774.6" cy="526.2" r="4.66"/><circle class="s" cx="870.3" cy="531.3" r="4.66"/><circle class="s" cx="718.6" cy="552.9" r="4.66"/><circle class="s" cx="551.9" cy="612.3" r="4.66"/><circle class="s" cx="690.9" cy="593.3" r="4.66"/><circle class="s" cx="733.0" cy="632.0" r="4.66"/><circle class="s" cx="695.0" cy="653.7" r="4.66"/><circle class="s" cx="1005.8" cy="361.2" r="4.66"/><circle class="s" cx="1027.8" cy="365.9" r="4.66"/><circle class="s" cx="1136.4" cy="427.4" r="4.66"/><circle class="s" cx="1007.9" cy="486.9" r="4.66"/><circle class="s" cx="1229.7" cy="505.7" r="4.66"/><circle class="s" cx="1176.4" cy="494.2" r="4.66"/><circle class="s" cx="1272.8" cy="517.0" r="4.66"/><circle class="s" cx="1259.0" cy="541.0" r="4.66"/><circle class="s" cx="1259.0" cy="549.8" r="4.66"/><circle class="s" cx="1220.5" cy="562.1" r="4.66"/><circle class="s" cx="1102.4" cy="571.9" r="4.66"/><circle class="s" cx="1262.1" cy="580.1" r="4.66"/><circle class="s" cx="1289.4" cy="651.7" r="4.66"/><circle class="s" cx="1298.6" cy="452.4" r="4.66"/><circle class="s" cx="1353.1" cy="463.7" r="4.66"/><circle class="s" cx="1342.3" cy="477.6" r="4.66"/><circle class="s" cx="1338.8" cy="482.5" r="4.66"/><circle class="s" cx="1389.4" cy="524.6" r="4.66"/><circle class="s" cx="1358.7" cy="549.8" r="4.66"/><circle class="s" cx="1501.8" cy="538.1" r="4.66"/><circle class="s" cx="1530.3" cy="575.4" r="4.66"/><circle class="s" cx="1522.3" cy="586.3" r="4.66"/><circle class="s" cx="1530.3" cy="585.7" r="4.66"/><circle class="s" cx="1532.3" cy="590.4" r="4.66"/><circle class="s" cx="1401.7" cy="577.5" r="4.66"/><circle class="s" cx="1402.1" cy="579.1" r="4.66"/><circle class="s" cx="1377.7" cy="611.7" r="4.66"/><circle class="s" cx="1380.8" cy="613.8" r="4.66"/><circle class="s" cx="1293.1" cy="614.4" r="4.66"/><circle class="s" cx="1329.0" cy="618.1" r="4.66"/><circle class="s" cx="1303.9" cy="641.4" r="4.66"/><circle class="s" cx="182.3" cy="656.1" r="4.66"/><circle class="s" cx="356.1" cy="664.7" r="4.66"/><circle class="s" cx="347.9" cy="674.1" r="4.66"/><circle class="s" cx="436.5" cy="711.0" r="4.66"/><circle class="s" cx="440.6" cy="730.9" r="4.66"/><circle class="s" cx="418.7" cy="766.8" r="4.66"/><circle class="s" cx="380.7" cy="782.1" r="4.66"/><circle class="s" cx="290.9" cy="813.1" r="4.66"/><circle class="s" cx="430.5" cy="812.5" r="4.66"/><circle class="s" cx="425.6" cy="842.6" r="4.66"/><circle class="s" cx="348.1" cy="880.3" r="4.66"/><circle class="s" cx="419.5" cy="896.3" r="4.66"/><circle class="s" cx="430.3" cy="925.0" r="4.66"/><circle class="s" cx="437.9" cy="928.1" r="4.66"/><circle class="s" cx="213.6" cy="926.7" r="4.66"/><circle class="s" cx="221.2" cy="931.2" r="4.66"/><circle class="s" cx="206.9" cy="938.0" r="4.66"/><circle class="s" cx="185.3" cy="945.1" r="4.66"/><circle class="s" cx="501.3" cy="665.9" r="4.66"/><circle class="s" cx="516.2" cy="669.0" r="4.66"/><circle class="s" cx="772.1" cy="683.3" r="4.66"/><circle class="s" cx="886.1" cy="689.9" r="4.66"/><circle class="s" cx="861.5" cy="707.3" r="4.66"/><circle class="s" cx="742.2" cy="717.1" r="4.66"/><circle class="s" cx="498.6" cy="726.8" r="4.66"/><circle class="s" cx="548.8" cy="730.9" r="4.66"/><circle class="s" cx="681.1" cy="747.3" r="4.66"/><circle class="s" cx="742.8" cy="731.9" r="4.66"/><circle class="s" cx="880.6" cy="732.9" r="4.66"/><circle class="s" cx="506.8" cy="739.1" r="4.66"/><circle class="s" cx="508.5" cy="749.3" r="4.66"/><circle class="s" cx="590.5" cy="745.2" r="4.66"/><circle class="s" cx="536.1" cy="760.2" r="4.66"/><circle class="s" cx="629.4" cy="766.1" r="4.66"/><circle class="s" cx="655.7" cy="762.7" r="4.66"/><circle class="s" cx="848.8" cy="763.7" r="4.66"/><circle class="s" cx="848.8" cy="763.7" r="4.66"/><circle class="s" cx="737.7" cy="773.9" r="4.66"/><circle class="s" cx="544.3" cy="777.0" r="4.66"/><circle class="s" cx="566.9" cy="784.6" r="4.66"/><circle class="s" cx="550.9" cy="791.0" r="4.66"/><circle class="s" cx="503.3" cy="791.0" r="4.66"/><circle class="s" cx="557.2" cy="800.6" r="4.66"/><circle class="s" cx="607.9" cy="801.2" r="4.66"/><circle class="s" cx="619.6" cy="809.8" r="4.66"/><circle class="s" cx="650.3" cy="806.9" r="4.66"/><circle class="s" cx="650.3" cy="806.9" r="4.66"/><circle class="s" cx="690.3" cy="805.1" r="4.66"/><circle class="s" cx="701.2" cy="822.1" r="4.66"/><circle class="s" cx="633.5" cy="844.7" r="4.66"/><circle class="s" cx="864.8" cy="833.4" r="4.66"/><circle class="s" cx="736.4" cy="844.3" r="4.66"/><circle class="s" cx="578.6" cy="849.8" r="4.66"/><circle class="s" cx="671.4" cy="852.3" r="4.66"/><circle class="s" cx="801.6" cy="852.9" r="4.66"/><circle class="s" cx="608.3" cy="875.4" r="4.66"/><circle class="s" cx="701.8" cy="868.2" r="4.66"/><circle class="s" cx="802.3" cy="864.6" r="4.66"/><circle class="s" cx="815.4" cy="873.4" r="4.66"/><circle class="s" cx="764.7" cy="884.0" r="4.66"/><circle class="s" cx="623.3" cy="889.8" r="4.66"/><circle class="s" cx="587.4" cy="896.3" r="4.66"/><circle class="s" cx="595.6" cy="898.0" r="4.66"/><circle class="s" cx="725.4" cy="893.1" r="4.66"/><circle class="s" cx="713.5" cy="902.5" r="4.66"/><circle class="s" cx="775.4" cy="901.1" r="4.66"/><circle class="s" cx="540.2" cy="925.7" r="4.66"/><circle class="s" cx="545.4" cy="926.3" r="4.66"/><circle class="s" cx="655.2" cy="935.9" r="4.66"/><circle class="s" cx="711.4" cy="933.2" r="4.66"/><circle class="s" cx="681.7" cy="949.8" r="4.66"/><circle class="s" cx="973.4" cy="661.8" r="4.66"/><circle class="s" cx="939.2" cy="688.9" r="4.66"/><circle class="s" cx="1022.6" cy="698.1" r="4.66"/><circle class="s" cx="1023.3" cy="704.2" r="4.66"/><circle class="s" cx="1183.2" cy="691.9" r="4.66"/><circle class="s" cx="891.6" cy="723.3" r="4.66"/><circle class="s" cx="981.2" cy="736.4" r="4.66"/><circle class="s" cx="1225.6" cy="792.4" r="4.66"/><circle class="s" cx="944.9" cy="813.9" r="4.66"/><circle class="s" cx="1257.0" cy="832.4" r="4.66"/><circle class="s" cx="1188.5" cy="844.1" r="4.66"/><circle class="s" cx="1089.9" cy="854.9" r="4.66"/><circle class="s" cx="1178.7" cy="859.0" r="4.66"/><circle class="s" cx="1186.3" cy="865.2" r="4.66"/><circle class="s" cx="1196.1" cy="870.7" r="4.66"/><circle class="s" cx="1091.9" cy="878.9" r="4.66"/><circle class="s" cx="1003.4" cy="885.7" r="4.66"/><circle class="s" cx="991.5" cy="881.2" r="4.66"/><circle class="s" cx="986.0" cy="908.8" r="4.66"/><circle class="s" cx="1230.3" cy="894.3" r="4.66"/><circle class="s" cx="924.2" cy="921.6" r="4.66"/><circle class="s" cx="941.9" cy="937.3" r="4.66"/><circle class="s" cx="1149.8" cy="910.3" r="4.66"/><circle class="s" cx="1211.9" cy="907.2" r="4.66"/><circle class="s" cx="1209.8" cy="930.8" r="4.66"/><circle class="s" cx="1287.3" cy="891.2" r="4.66"/><circle class="s" cx="1433.1" cy="665.7" r="4.66"/><circle class="s" cx="1389.4" cy="685.2" r="4.66"/><circle class="s" cx="1329.6" cy="753.4" r="4.66"/><circle class="s" cx="1338.8" cy="755.9" r="4.66"/><circle class="s" cx="1424.7" cy="763.7" r="4.66"/><circle class="s" cx="1361.8" cy="779.1" r="4.66"/><circle class="s" cx="1482.3" cy="808.2" r="4.66"/><circle class="s" cx="1300.3" cy="844.7" r="4.66"/><circle class="s" cx="1267.9" cy="950.3" r="4.66"/><circle class="s" cx="466.8" cy="1028.2" r="4.66"/><circle class="s" cx="476.7" cy="1085.2" r="4.66"/><circle class="s" cx="688.3" cy="957.1" r="4.66"/><circle class="s" cx="636.2" cy="965.3" r="4.66"/><circle class="s" cx="738.1" cy="1000.1" r="4.66"/><circle class="s" cx="823.4" cy="1013.9" r="4.66"/><circle class="s" cx="516.7" cy="1018.8" r="4.66"/><circle class="s" cx="684.4" cy="1021.7" r="4.66"/><circle class="s" cx="549.7" cy="1033.5" r="4.66"/><circle class="s" cx="616.3" cy="1032.5" r="4.66"/><circle class="s" cx="637.8" cy="1031.3" r="4.66"/><circle class="s" cx="636.2" cy="1047.3" r="4.66"/><circle class="s" cx="637.6" cy="1068.4" r="4.66"/><circle class="s" cx="742.6" cy="1053.0" r="4.66"/><circle class="s" cx="830.7" cy="1053.8" r="4.66"/><circle class="s" cx="835.5" cy="1063.7" r="4.66"/><circle class="s" cx="887.1" cy="1059.6" r="4.66"/><circle class="s" cx="779.5" cy="1080.3" r="4.66"/><circle class="s" cx="592.5" cy="1109.8" r="4.66"/><circle class="s" cx="687.8" cy="1101.6" r="4.66"/><circle class="s" cx="523.4" cy="1127.9" r="4.66"/><circle class="s" cx="520.8" cy="1129.7" r="4.66"/><circle class="s" cx="511.1" cy="1143.6" r="4.66"/><circle class="s" cx="518.7" cy="1148.2" r="4.66"/><circle class="s" cx="667.3" cy="1143.6" r="4.66"/><circle class="s" cx="848.2" cy="1145.3" r="4.66"/><circle class="s" cx="593.5" cy="1228.7" r="4.66"/><circle class="s" cx="588.4" cy="1238.6" r="4.66"/><circle class="s" cx="688.9" cy="1233.2" r="4.66"/><circle class="s" cx="896.6" cy="965.9" r="4.66"/><circle class="s" cx="1050.9" cy="964.3" r="4.66"/><circle class="s" cx="1053.0" cy="967.9" r="4.66"/><circle class="s" cx="1059.1" cy="982.3" r="4.66"/><circle class="s" cx="1104.7" cy="964.3" r="4.66"/><circle class="s" cx="1150.4" cy="957.7" r="4.66"/><circle class="s" cx="1237.5" cy="996.4" r="4.66"/><circle class="s" cx="1252.9" cy="987.2" r="4.66"/><circle class="s" cx="921.2" cy="1029.0" r="4.66"/><circle class="s" cx="963.8" cy="1040.5" r="4.66"/><circle class="s" cx="961.1" cy="1044.2" r="4.66"/><circle class="s" cx="1078.2" cy="1047.7" r="4.66"/><circle class="s" cx="1077.0" cy="1062.7" r="4.66"/><circle class="s" cx="965.9" cy="1120.5" r="4.66"/><circle class="s" cx="1195.5" cy="1112.3" r="4.66"/><circle class="s" cx="1091.3" cy="1141.6" r="4.66"/><circle class="s" cx="1099.7" cy="1169.7" r="4.66"/><circle class="s" cx="1116.3" cy="1171.7" r="4.66"/><circle class="s" cx="900.3" cy="1193.5" r="4.66"/><circle class="s" cx="1002.8" cy="1233.2" r="4.66"/><circle class="s" cx="1027.8" cy="1234.3" r="4.66"/><circle class="s" cx="1340.2" cy="986.8" r="4.66"/><circle class="s" cx="1386.0" cy="1014.5" r="4.66"/><circle class="s" cx="1401.3" cy="1025.8" r="4.66"/><circle class="s" cx="1303.3" cy="1032.5" r="4.66"/><circle class="s" cx="863.6" cy="1306.9" r="4.66"/><circle class="s" cx="882.0" cy="1327.4" r="4.66"/><circle class="s" cx="652.6" cy="1345.2" r="4.66"/><circle class="t" cx="795.7" cy="148.9" r="4.66"/><circle class="t" cx="650.3" cy="220.1" r="4.66"/><circle class="t" cx="661.2" cy="226.2" r="4.66"/><circle class="t" cx="658.5" cy="228.9" r="4.66"/><circle class="t" cx="662.8" cy="235.7" r="4.66"/><circle class="t" cx="649.5" cy="268.7" r="4.66"/><circle class="t" cx="735.0" cy="234.0" r="4.66"/><circle class="t" cx="737.5" cy="234.4" r="4.66"/><circle class="t" cx="790.8" cy="226.2" r="4.66"/><circle class="t" cx="794.5" cy="299.6" r="4.66"/><circle class="t" cx="649.1" cy="346.2" r="4.66"/><circle class="t" cx="525.3" cy="353.3" r="4.66"/><circle class="t" cx="553.4" cy="350.3" r="4.66"/><circle class="t" cx="887.7" cy="320.5" r="4.66"/><circle class="t" cx="888.4" cy="324.6" r="4.66"/><circle class="t" cx="1144.8" cy="213.5" r="4.66"/><circle class="t" cx="1106.3" cy="254.5" r="4.66"/><circle class="t" cx="1101.2" cy="261.5" r="4.66"/><circle class="t" cx="1106.7" cy="262.5" r="4.66"/><circle class="t" cx="1163.1" cy="262.7" r="4.66"/><circle class="t" cx="1094.6" cy="269.3" r="4.66"/><circle class="t" cx="1104.0" cy="269.9" r="4.66"/><circle class="t" cx="1005.4" cy="351.7" r="4.66"/><circle class="t" cx="387.3" cy="431.1" r="4.66"/><circle class="t" cx="431.4" cy="476.4" r="4.66"/><circle class="t" cx="432.8" cy="481.3" r="4.66"/><circle class="t" cx="325.2" cy="623.0" r="4.66"/><circle class="t" cx="323.7" cy="628.3" r="4.66"/><circle class="t" cx="471.8" cy="607.2" r="4.66"/><circle class="t" cx="475.4" cy="610.7" r="4.66"/><circle class="t" cx="475.4" cy="610.7" r="4.66"/><circle class="t" cx="605.4" cy="378.2" r="4.66"/><circle class="t" cx="831.4" cy="367.9" r="4.66"/><circle class="t" cx="836.1" cy="368.4" r="4.66"/><circle class="t" cx="798.1" cy="402.8" r="4.66"/><circle class="t" cx="842.6" cy="402.8" r="4.66"/><circle class="t" cx="707.1" cy="419.2" r="4.66"/><circle class="t" cx="772.5" cy="424.3" r="4.66"/><circle class="t" cx="794.3" cy="436.4" r="4.66"/><circle class="t" cx="506.4" cy="454.5" r="4.66"/><circle class="t" cx="579.2" cy="469.2" r="4.66"/><circle class="t" cx="499.8" cy="507.8" r="4.66"/><circle class="t" cx="559.7" cy="505.7" r="4.66"/><circle class="t" cx="571.0" cy="513.5" r="4.66"/><circle class="t" cx="564.8" cy="537.1" r="4.66"/><circle class="t" cx="600.1" cy="540.2" r="4.66"/><circle class="t" cx="524.4" cy="542.6" r="4.66"/><circle class="t" cx="547.0" cy="557.0" r="4.66"/><circle class="t" cx="691.9" cy="529.3" r="4.66"/><circle class="t" cx="821.1" cy="553.3" r="4.66"/><circle class="t" cx="886.7" cy="552.5" r="4.66"/><circle class="t" cx="604.8" cy="575.4" r="4.66"/><circle class="t" cx="609.9" cy="586.7" r="4.66"/><circle class="t" cx="763.7" cy="627.3" r="4.66"/><circle class="t" cx="722.3" cy="637.3" r="4.66"/><circle class="t" cx="716.6" cy="641.0" r="4.66"/><circle class="t" cx="716.6" cy="641.0" r="4.66"/><circle class="t" cx="1183.2" cy="422.7" r="4.66"/><circle class="t" cx="1183.2" cy="422.7" r="4.66"/><circle class="t" cx="949.0" cy="444.2" r="4.66"/><circle class="t" cx="949.0" cy="447.3" r="4.66"/><circle class="t" cx="1229.3" cy="490.3" r="4.66"/><circle class="t" cx="1225.6" cy="496.1" r="4.66"/><circle class="t" cx="1149.4" cy="569.3" r="4.66"/><circle class="t" cx="1148.3" cy="573.8" r="4.66"/><circle class="t" cx="1144.2" cy="583.6" r="4.66"/><circle class="t" cx="1102.0" cy="595.3" r="4.66"/><circle class="t" cx="1052.4" cy="578.5" r="4.66"/><circle class="t" cx="992.5" cy="604.5" r="4.66"/><circle class="t" cx="993.5" cy="605.8" r="4.66"/><circle class="t" cx="903.5" cy="626.3" r="4.66"/><circle class="t" cx="909.5" cy="628.7" r="4.66"/><circle class="t" cx="912.1" cy="631.2" r="4.66"/><circle class="t" cx="999.1" cy="637.3" r="4.66"/><circle class="t" cx="999.1" cy="637.3" r="4.66"/><circle class="t" cx="995.2" cy="645.1" r="4.66"/><circle class="t" cx="1145.9" cy="636.5" r="4.66"/><circle class="t" cx="1056.7" cy="651.7" r="4.66"/><circle class="t" cx="1056.7" cy="651.7" r="4.66"/><circle class="t" cx="1344.9" cy="495.9" r="4.66"/><circle class="t" cx="1318.3" cy="504.1" r="4.66"/><circle class="t" cx="1332.4" cy="523.3" r="4.66"/><circle class="t" cx="1381.2" cy="524.2" r="4.66"/><circle class="t" cx="1359.1" cy="552.3" r="4.66"/><circle class="t" cx="381.3" cy="770.7" r="4.66"/><circle class="t" cx="313.9" cy="810.8" r="4.66"/><circle class="t" cx="307.7" cy="825.4" r="4.66"/><circle class="t" cx="408.6" cy="853.3" r="4.66"/><circle class="t" cx="486.7" cy="843.0" r="4.66"/><circle class="t" cx="346.1" cy="901.7" r="4.66"/><circle class="t" cx="454.3" cy="938.2" r="4.66"/><circle class="t" cx="215.1" cy="943.5" r="4.66"/><circle class="t" cx="502.3" cy="670.0" r="4.66"/><circle class="t" cx="604.8" cy="678.2" r="4.66"/><circle class="t" cx="604.8" cy="678.2" r="4.66"/><circle class="t" cx="666.7" cy="675.5" r="4.66"/><circle class="t" cx="799.6" cy="656.5" r="4.66"/><circle class="t" cx="756.9" cy="675.5" r="4.66"/><circle class="t" cx="691.9" cy="703.6" r="4.66"/><circle class="t" cx="859.0" cy="730.9" r="4.66"/><circle class="t" cx="859.7" cy="732.5" r="4.66"/><circle class="t" cx="681.7" cy="737.6" r="4.66"/><circle class="t" cx="781.7" cy="735.0" r="4.66"/><circle class="t" cx="781.1" cy="776.6" r="4.66"/><circle class="t" cx="709.4" cy="777.6" r="4.66"/><circle class="t" cx="531.0" cy="807.8" r="4.66"/><circle class="t" cx="573.6" cy="812.9" r="4.66"/><circle class="t" cx="559.1" cy="820.1" r="4.66"/><circle class="t" cx="744.2" cy="800.6" r="4.66"/><circle class="t" cx="775.4" cy="810.8" r="4.66"/><circle class="t" cx="738.1" cy="815.4" r="4.66"/><circle class="t" cx="714.5" cy="824.2" r="4.66"/><circle class="t" cx="643.8" cy="870.3" r="4.66"/><circle class="t" cx="719.2" cy="867.8" r="4.66"/><circle class="t" cx="718.6" cy="872.3" r="4.66"/><circle class="t" cx="867.2" cy="868.7" r="4.66"/><circle class="t" cx="673.1" cy="894.9" r="4.66"/><circle class="t" cx="672.1" cy="911.9" r="4.66"/><circle class="t" cx="867.2" cy="915.4" r="4.66"/><circle class="t" cx="794.0" cy="925.0" r="4.66"/><circle class="t" cx="824.8" cy="926.3" r="4.66"/><circle class="t" cx="707.7" cy="947.6" r="4.66"/><circle class="t" cx="742.2" cy="946.6" r="4.66"/><circle class="t" cx="789.9" cy="945.7" r="4.66"/><circle class="t" cx="1184.6" cy="690.5" r="4.66"/><circle class="t" cx="1240.6" cy="710.4" r="4.66"/><circle class="t" cx="1253.3" cy="713.5" r="4.66"/><circle class="t" cx="1226.6" cy="752.4" r="4.66"/><circle class="t" cx="931.6" cy="783.6" r="4.66"/><circle class="t" cx="912.6" cy="795.5" r="4.66"/><circle class="t" cx="1108.3" cy="802.0" r="4.66"/><circle class="t" cx="1162.7" cy="810.2" r="4.66"/><circle class="t" cx="1253.3" cy="814.7" r="4.66"/><circle class="t" cx="988.4" cy="824.6" r="4.66"/><circle class="t" cx="901.7" cy="834.8" r="4.66"/><circle class="t" cx="1078.2" cy="853.9" r="4.66"/><circle class="t" cx="1082.7" cy="855.3" r="4.66"/><circle class="t" cx="1195.5" cy="860.0" r="4.66"/><circle class="t" cx="1004.8" cy="906.2" r="4.66"/><circle class="t" cx="1004.8" cy="906.2" r="4.66"/><circle class="t" cx="1209.8" cy="930.8" r="4.66"/><circle class="t" cx="1541.8" cy="662.6" r="4.66"/><circle class="t" cx="1306.8" cy="696.4" r="4.66"/><circle class="t" cx="1484.4" cy="713.9" r="4.66"/><circle class="t" cx="1312.6" cy="738.5" r="4.66"/><circle class="t" cx="1418.1" cy="745.6" r="4.66"/><circle class="t" cx="1422.9" cy="748.3" r="4.66"/><circle class="t" cx="1364.8" cy="780.5" r="4.66"/><circle class="t" cx="1346.0" cy="800.6" r="4.66"/><circle class="t" cx="1346.0" cy="800.6" r="4.66"/><circle class="t" cx="1297.6" cy="857.4" r="4.66"/><circle class="t" cx="1424.3" cy="897.4" r="4.66"/><circle class="t" cx="1422.6" cy="902.5" r="4.66"/><circle class="t" cx="1291.5" cy="947.8" r="4.66"/><circle class="t" cx="244.8" cy="994.4" r="4.66"/><circle class="t" cx="371.3" cy="969.0" r="4.66"/><circle class="t" cx="422.8" cy="973.7" r="4.66"/><circle class="t" cx="470.7" cy="986.4" r="4.66"/><circle class="t" cx="374.6" cy="1017.1" r="4.66"/><circle class="t" cx="374.6" cy="1017.1" r="4.66"/><circle class="t" cx="426.2" cy="1203.7" r="4.66"/><circle class="t" cx="850.2" cy="957.1" r="4.66"/><circle class="t" cx="704.2" cy="989.3" r="4.66"/><circle class="t" cx="679.0" cy="1034.4" r="4.66"/><circle class="t" cx="531.0" cy="1041.1" r="4.66"/><circle class="t" cx="539.8" cy="1048.3" r="4.66"/><circle class="t" cx="500.7" cy="1052.4" r="4.66"/><circle class="t" cx="733.4" cy="1039.1" r="4.66"/><circle class="t" cx="539.2" cy="1089.3" r="4.66"/><circle class="t" cx="539.8" cy="1091.8" r="4.66"/><circle class="t" cx="762.7" cy="1101.2" r="4.66"/><circle class="t" cx="811.9" cy="1109.2" r="4.66"/><circle class="t" cx="533.7" cy="1127.4" r="4.66"/><circle class="t" cx="675.5" cy="1144.7" r="4.66"/><circle class="t" cx="794.0" cy="1173.4" r="4.66"/><circle class="t" cx="624.3" cy="1201.5" r="4.66"/><circle class="t" cx="806.4" cy="1207.2" r="4.66"/><circle class="t" cx="675.1" cy="1239.0" r="4.66"/><circle class="t" cx="925.9" cy="970.4" r="4.66"/><circle class="t" cx="949.5" cy="991.9" r="4.66"/><circle class="t" cx="956.6" cy="996.0" r="4.66"/><circle class="t" cx="961.3" cy="999.1" r="4.66"/><circle class="t" cx="1044.8" cy="972.5" r="4.66"/><circle class="t" cx="1072.5" cy="1007.7" r="4.66"/><circle class="t" cx="1077.6" cy="1006.3" r="4.66"/><circle class="t" cx="1170.5" cy="960.8" r="4.66"/><circle class="t" cx="1129.3" cy="1000.1" r="4.66"/><circle class="t" cx="958.3" cy="1031.9" r="4.66"/><circle class="t" cx="1032.5" cy="1050.8" r="4.66"/><circle class="t" cx="1032.5" cy="1050.8" r="4.66"/><circle class="t" cx="1225.2" cy="1100.0" r="4.66"/><circle class="t" cx="1225.2" cy="1100.0" r="4.66"/><circle class="t" cx="1265.8" cy="1102.4" r="4.66"/><circle class="t" cx="1265.8" cy="1102.4" r="4.66"/><circle class="t" cx="1200.6" cy="1124.2" r="4.66"/><circle class="t" cx="1199.0" cy="1129.9" r="4.66"/><circle class="t" cx="1082.1" cy="1127.9" r="4.66"/><circle class="t" cx="1092.4" cy="1136.5" r="4.66"/><circle class="t" cx="900.3" cy="1193.5" r="4.66"/><circle class="t" cx="1013.6" cy="1236.9" r="4.66"/><circle class="t" cx="1013.6" cy="1236.9" r="4.66"/><circle class="t" cx="992.5" cy="1247.6" r="4.66"/><circle class="t" cx="984.7" cy="1249.6" r="4.66"/><circle class="t" cx="1382.3" cy="1010.0" r="4.66"/><circle class="t" cx="1302.3" cy="1034.4" r="4.66"/><circle class="t" cx="1326.9" cy="1212.3" r="4.66"/><circle class="t" cx="856.4" cy="1283.3" r="4.66"/><circle class="t" cx="857.0" cy="1284.8" r="4.66"/><circle class="t" cx="860.1" cy="1300.7" r="4.66"/><circle class="t" cx="647.9" cy="1339.1" r="4.66"/><circle class="e" cx="538.8" cy="149.7" r="4.66"/><circle class="e" cx="543.3" cy="181.3" r="4.66"/><circle class="e" cx="568.5" cy="136.8" r="4.66"/><circle class="e" cx="570.0" cy="138.7" r="4.66"/><circle class="e" cx="573.0" cy="142.4" r="4.66"/><circle class="e" cx="762.7" cy="146.9" r="4.66"/><circle class="e" cx="763.9" cy="147.7" r="4.66"/><circle class="e" cx="715.3" cy="190.1" r="4.66"/><circle class="e" cx="1057.1" cy="194.6" r="4.66"/><circle class="e" cx="928.1" cy="264.6" r="4.66"/><circle class="e" cx="933.5" cy="268.2" r="4.66"/><circle class="e" cx="928.1" cy="269.9" r="4.66"/><circle class="e" cx="1125.4" cy="227.9" r="4.66"/><circle class="e" cx="1181.3" cy="256.4" r="4.66"/><circle class="e" cx="1124.8" cy="286.5" r="4.66"/><circle class="e" cx="1113.5" cy="316.0" r="4.66"/><circle class="e" cx="974.7" cy="325.0" r="4.66"/><circle class="e" cx="1156.1" cy="346.8" r="4.66"/><circle class="e" cx="1270.3" cy="198.6" r="4.66"/><circle class="e" cx="1270.3" cy="198.6" r="4.66"/><circle class="e" cx="1316.5" cy="222.0" r="4.66"/><circle class="e" cx="1280.8" cy="237.3" r="4.66"/><circle class="e" cx="1279.3" cy="255.5" r="4.66"/><circle class="e" cx="371.9" cy="399.5" r="4.66"/><circle class="e" cx="396.5" cy="418.6" r="4.66"/><circle class="e" cx="440.6" cy="453.8" r="4.66"/><circle class="e" cx="403.3" cy="526.6" r="4.66"/><circle class="e" cx="447.4" cy="519.7" r="4.66"/><circle class="e" cx="388.3" cy="554.5" r="4.66"/><circle class="e" cx="367.4" cy="573.4" r="4.66"/><circle class="e" cx="369.9" cy="575.4" r="4.66"/><circle class="e" cx="375.0" cy="597.0" r="4.66"/><circle class="e" cx="466.8" cy="606.6" r="4.66"/><circle class="e" cx="444.3" cy="638.0" r="4.66"/><circle class="e" cx="548.0" cy="365.9" r="4.66"/><circle class="e" cx="570.4" cy="364.3" r="4.66"/><circle class="e" cx="655.0" cy="388.4" r="4.66"/><circle class="e" cx="842.6" cy="376.1" r="4.66"/><circle class="e" cx="879.5" cy="393.6" r="4.66"/><circle class="e" cx="537.6" cy="394.2" r="4.66"/><circle class="e" cx="575.7" cy="397.1" r="4.66"/><circle class="e" cx="615.7" cy="416.1" r="4.66"/><circle class="e" cx="653.6" cy="405.9" r="4.66"/><circle class="e" cx="828.7" cy="409.8" r="4.66"/><circle class="e" cx="675.1" cy="423.9" r="4.66"/><circle class="e" cx="769.2" cy="424.3" r="4.66"/><circle class="e" cx="826.2" cy="446.3" r="4.66"/><circle class="e" cx="826.2" cy="446.3" r="4.66"/><circle class="e" cx="783.6" cy="458.6" r="4.66"/><circle class="e" cx="883.6" cy="479.7" r="4.66"/><circle class="e" cx="645.8" cy="499.0" r="4.66"/><circle class="e" cx="495.1" cy="506.7" r="4.66"/><circle class="e" cx="533.1" cy="529.7" r="4.66"/><circle class="e" cx="770.3" cy="521.7" r="4.66"/><circle class="e" cx="556.6" cy="594.9" r="4.66"/><circle class="e" cx="727.4" cy="577.1" r="4.66"/><circle class="e" cx="852.5" cy="579.5" r="4.66"/><circle class="e" cx="834.4" cy="610.9" r="4.66"/><circle class="e" cx="834.4" cy="610.9" r="4.66"/><circle class="e" cx="615.7" cy="629.8" r="4.66"/><circle class="e" cx="615.7" cy="629.8" r="4.66"/><circle class="e" cx="694.0" cy="649.6" r="4.66"/><circle class="e" cx="724.8" cy="649.6" r="4.66"/><circle class="e" cx="639.1" cy="651.3" r="4.66"/><circle class="e" cx="921.2" cy="370.0" r="4.66"/><circle class="e" cx="1228.9" cy="367.3" r="4.66"/><circle class="e" cx="1228.9" cy="374.1" r="4.66"/><circle class="e" cx="1229.3" cy="380.0" r="4.66"/><circle class="e" cx="1066.5" cy="415.3" r="4.66"/><circle class="e" cx="1066.5" cy="415.3" r="4.66"/><circle class="e" cx="1287.7" cy="437.4" r="4.66"/><circle class="e" cx="1238.5" cy="487.9" r="4.66"/><circle class="e" cx="1235.5" cy="493.4" r="4.66"/><circle class="e" cx="1235.5" cy="497.5" r="4.66"/><circle class="e" cx="1259.0" cy="526.2" r="4.66"/><circle class="e" cx="1251.3" cy="537.9" r="4.66"/><circle class="e" cx="1139.1" cy="550.4" r="4.66"/><circle class="e" cx="979.2" cy="604.1" r="4.66"/><circle class="e" cx="1227.3" cy="616.0" r="4.66"/><circle class="e" cx="927.9" cy="623.6" r="4.66"/><circle class="e" cx="1150.8" cy="643.5" r="4.66"/><circle class="e" cx="1296.2" cy="460.0" r="4.66"/><circle class="e" cx="1296.2" cy="460.0" r="4.66"/><circle class="e" cx="1481.1" cy="505.7" r="4.66"/><circle class="e" cx="1481.1" cy="505.7" r="4.66"/><circle class="e" cx="1331.6" cy="508.2" r="4.66"/><circle class="e" cx="1310.1" cy="518.0" r="4.66"/><circle class="e" cx="1319.3" cy="520.1" r="4.66"/><circle class="e" cx="1296.2" cy="527.2" r="4.66"/><circle class="e" cx="1302.7" cy="529.7" r="4.66"/><circle class="e" cx="1312.1" cy="528.9" r="4.66"/><circle class="e" cx="1308.5" cy="539.5" r="4.66"/><circle class="e" cx="1299.2" cy="546.7" r="4.66"/><circle class="e" cx="1326.5" cy="546.7" r="4.66"/><circle class="e" cx="1322.4" cy="573.0" r="4.66"/><circle class="e" cx="1293.1" cy="576.5" r="4.66"/><circle class="e" cx="173.4" cy="656.7" r="4.66"/><circle class="e" cx="177.5" cy="663.0" r="4.66"/><circle class="e" cx="336.6" cy="690.5" r="4.66"/><circle class="e" cx="362.1" cy="736.0" r="4.66"/><circle class="e" cx="362.1" cy="736.0" r="4.66"/><circle class="e" cx="310.4" cy="822.5" r="4.66"/><circle class="e" cx="433.8" cy="827.7" r="4.66"/><circle class="e" cx="398.8" cy="842.4" r="4.66"/><circle class="e" cx="398.1" cy="876.0" r="4.66"/><circle class="e" cx="396.5" cy="878.5" r="4.66"/><circle class="e" cx="393.4" cy="881.0" r="4.66"/><circle class="e" cx="366.2" cy="893.9" r="4.66"/><circle class="e" cx="507.4" cy="657.7" r="4.66"/><circle class="e" cx="697.1" cy="667.3" r="4.66"/><circle class="e" cx="852.5" cy="663.2" r="4.66"/><circle class="e" cx="805.7" cy="689.9" r="4.66"/><circle class="e" cx="630.6" cy="692.1" r="4.66"/><circle class="e" cx="633.5" cy="697.1" r="4.66"/><circle class="e" cx="634.5" cy="707.7" r="4.66"/><circle class="e" cx="548.0" cy="733.5" r="4.66"/><circle class="e" cx="719.6" cy="756.5" r="4.66"/><circle class="e" cx="719.6" cy="756.5" r="4.66"/><circle class="e" cx="766.8" cy="750.8" r="4.66"/><circle class="e" cx="631.1" cy="757.5" r="4.66"/><circle class="e" cx="661.8" cy="784.4" r="4.66"/><circle class="e" cx="673.9" cy="783.2" r="4.66"/><circle class="e" cx="627.0" cy="777.6" r="4.66"/><circle class="e" cx="834.4" cy="788.3" r="4.66"/><circle class="e" cx="834.4" cy="788.3" r="4.66"/><circle class="e" cx="882.6" cy="779.1" r="4.66"/><circle class="e" cx="524.9" cy="801.2" r="4.66"/><circle class="e" cx="642.7" cy="808.4" r="4.66"/><circle class="e" cx="668.8" cy="808.4" r="4.66"/><circle class="e" cx="725.8" cy="805.3" r="4.66"/><circle class="e" cx="755.7" cy="803.7" r="4.66"/><circle class="e" cx="861.7" cy="799.6" r="4.66"/><circle class="e" cx="801.6" cy="807.4" r="4.66"/><circle class="e" cx="801.6" cy="807.4" r="4.66"/><circle class="e" cx="779.1" cy="823.3" r="4.66"/><circle class="e" cx="534.1" cy="833.0" r="4.66"/><circle class="e" cx="647.9" cy="836.5" r="4.66"/><circle class="e" cx="625.7" cy="840.6" r="4.66"/><circle class="e" cx="760.6" cy="859.0" r="4.66"/><circle class="e" cx="844.3" cy="850.4" r="4.66"/><circle class="e" cx="561.8" cy="880.6" r="4.66"/><circle class="e" cx="775.0" cy="876.5" r="4.66"/><circle class="e" cx="823.6" cy="882.0" r="4.66"/><circle class="e" cx="633.5" cy="896.3" r="4.66"/><circle class="e" cx="690.5" cy="888.8" r="4.66"/><circle class="e" cx="747.3" cy="891.8" r="4.66"/><circle class="e" cx="727.2" cy="904.1" r="4.66"/><circle class="e" cx="636.6" cy="920.9" r="4.66"/><circle class="e" cx="727.2" cy="916.4" r="4.66"/><circle class="e" cx="790.4" cy="910.3" r="4.66"/><circle class="e" cx="876.5" cy="913.4" r="4.66"/><circle class="e" cx="529.0" cy="916.4" r="4.66"/><circle class="e" cx="764.1" cy="929.8" r="4.66"/><circle class="e" cx="867.7" cy="925.2" r="4.66"/><circle class="e" cx="582.3" cy="943.5" r="4.66"/><circle class="e" cx="582.3" cy="943.5" r="4.66"/><circle class="e" cx="759.6" cy="946.2" r="4.66"/><circle class="e" cx="816.0" cy="951.7" r="4.66"/><circle class="e" cx="892.1" cy="690.5" r="4.66"/><circle class="e" cx="942.3" cy="687.2" r="4.66"/><circle class="e" cx="944.9" cy="686.8" r="4.66"/><circle class="e" cx="1032.9" cy="713.5" r="4.66"/><circle class="e" cx="1031.1" cy="728.2" r="4.66"/><circle class="e" cx="1026.5" cy="736.6" r="4.66"/><circle class="e" cx="907.4" cy="760.6" r="4.66"/><circle class="e" cx="1224.2" cy="744.8" r="4.66"/><circle class="e" cx="1224.8" cy="747.3" r="4.66"/><circle class="e" cx="1060.8" cy="767.2" r="4.66"/><circle class="e" cx="1047.5" cy="794.9" r="4.66"/><circle class="e" cx="1106.9" cy="801.2" r="4.66"/><circle class="e" cx="1238.5" cy="800.6" r="4.66"/><circle class="e" cx="1238.5" cy="804.7" r="4.66"/><circle class="e" cx="1162.7" cy="810.2" r="4.66"/><circle class="e" cx="944.9" cy="813.9" r="4.66"/><circle class="e" cx="1113.1" cy="852.3" r="4.66"/><circle class="e" cx="1002.8" cy="880.1" r="4.66"/><circle class="e" cx="977.1" cy="889.4" r="4.66"/><circle class="e" cx="1211.9" cy="885.7" r="4.66"/><circle class="e" cx="915.6" cy="921.6" r="4.66"/><circle class="e" cx="1209.8" cy="916.4" r="4.66"/><circle class="e" cx="1211.3" cy="921.6" r="4.66"/><circle class="e" cx="1441.7" cy="658.5" r="4.66"/><circle class="e" cx="1335.5" cy="674.5" r="4.66"/><circle class="e" cx="1291.6" cy="709.4" r="4.66"/><circle class="e" cx="1316.0" cy="713.0" r="4.66"/><circle class="e" cx="1365.9" cy="736.0" r="4.66"/><circle class="e" cx="1482.3" cy="807.4" r="4.66"/><circle class="e" cx="1338.6" cy="811.9" r="4.66"/><circle class="e" cx="1338.6" cy="811.9" r="4.66"/><circle class="e" cx="1300.3" cy="844.1" r="4.66"/><circle class="e" cx="1347.0" cy="915.4" r="4.66"/><circle class="e" cx="1263.2" cy="935.3" r="4.66"/><circle class="e" cx="229.0" cy="959.1" r="4.66"/><circle class="e" cx="277.6" cy="980.7" r="4.66"/><circle class="e" cx="394.0" cy="965.3" r="4.66"/><circle class="e" cx="468.3" cy="1025.3" r="4.66"/><circle class="e" cx="420.5" cy="1085.2" r="4.66"/><circle class="e" cx="420.1" cy="1188.1" r="4.66"/><circle class="e" cx="424.2" cy="1197.0" r="4.66"/><circle class="e" cx="431.4" cy="1204.1" r="4.66"/><circle class="e" cx="850.2" cy="957.1" r="4.66"/><circle class="e" cx="661.6" cy="974.5" r="4.66"/><circle class="e" cx="670.4" cy="970.4" r="4.66"/><circle class="e" cx="670.4" cy="970.4" r="4.66"/><circle class="e" cx="553.6" cy="993.0" r="4.66"/><circle class="e" cx="555.2" cy="997.1" r="4.66"/><circle class="e" cx="551.5" cy="1006.3" r="4.66"/><circle class="e" cx="716.6" cy="995.0" r="4.66"/><circle class="e" cx="867.9" cy="1005.3" r="4.66"/><circle class="e" cx="492.5" cy="1019.2" r="4.66"/><circle class="e" cx="677.2" cy="1017.1" r="4.66"/><circle class="e" cx="529.6" cy="1037.6" r="4.66"/><circle class="e" cx="727.8" cy="1036.6" r="4.66"/><circle class="e" cx="593.1" cy="1112.3" r="4.66"/><circle class="e" cx="505.8" cy="1116.8" r="4.66"/><circle class="e" cx="684.4" cy="1149.4" r="4.66"/><circle class="e" cx="805.1" cy="1203.1" r="4.66"/><circle class="e" cx="805.1" cy="1203.1" r="4.66"/><circle class="e" cx="594.6" cy="1217.5" r="4.66"/><circle class="e" cx="693.0" cy="1242.1" r="4.66"/><circle class="e" cx="694.0" cy="1244.1" r="4.66"/><circle class="e" cx="975.1" cy="978.6" r="4.66"/><circle class="e" cx="1010.3" cy="993.0" r="4.66"/><circle class="e" cx="1025.7" cy="998.7" r="4.66"/><circle class="e" cx="1025.3" cy="1006.3" r="4.66"/><circle class="e" cx="1025.3" cy="1006.3" r="4.66"/><circle class="e" cx="1091.9" cy="1008.7" r="4.66"/><circle class="e" cx="1062.8" cy="1047.3" r="4.66"/><circle class="e" cx="1059.1" cy="1049.3" r="4.66"/><circle class="e" cx="1087.8" cy="1036.4" r="4.66"/><circle class="e" cx="891.6" cy="1111.5" r="4.66"/><circle class="e" cx="1011.4" cy="1123.1" r="4.66"/><circle class="e" cx="1011.4" cy="1123.1" r="4.66"/><circle class="e" cx="1285.3" cy="1068.4" r="4.66"/><circle class="e" cx="1133.6" cy="1138.9" r="4.66"/><circle class="e" cx="1132.3" cy="1149.4" r="4.66"/><circle class="e" cx="1070.4" cy="1170.3" r="4.66"/><circle class="e" cx="1070.4" cy="1174.4" r="4.66"/><circle class="e" cx="1294.5" cy="1099.6" r="4.66"/><circle class="e" cx="1320.8" cy="1203.5" r="4.66"/><circle class="e" cx="847.8" cy="1321.7" r="4.66"/><circle class="e" cx="666.7" cy="1330.5" r="4.66"/><circle class="e" cx="666.7" cy="1330.5" r="4.66"/><circle class="g" cx="535.5" cy="153.8" r="4.66"/><circle class="g" cx="588.4" cy="154.5" r="4.66"/><circle class="g" cx="586.0" cy="164.9" r="4.66"/><circle class="g" cx="662.6" cy="153.2" r="4.66"/><circle class="g" cx="763.3" cy="172.9" r="4.66"/><circle class="g" cx="775.0" cy="173.7" r="4.66"/><circle class="g" cx="778.7" cy="175.0" r="4.66"/><circle class="g" cx="783.6" cy="171.7" r="4.66"/><circle class="g" cx="672.1" cy="241.0" r="4.66"/><circle class="g" cx="655.7" cy="246.1" r="4.66"/><circle class="g" cx="653.0" cy="248.0" r="4.66"/><circle class="g" cx="630.6" cy="251.2" r="4.66"/><circle class="g" cx="697.5" cy="279.9" r="4.66"/><circle class="g" cx="703.2" cy="353.7" r="4.66"/><circle class="g" cx="1148.7" cy="234.8" r="4.66"/><circle class="g" cx="1113.5" cy="252.5" r="4.66"/><circle class="g" cx="1160.2" cy="268.7" r="4.66"/><circle class="g" cx="1169.9" cy="271.7" r="4.66"/><circle class="g" cx="1088.1" cy="306.0" r="4.66"/><circle class="g" cx="1284.0" cy="193.5" r="4.66"/><circle class="g" cx="442.6" cy="371.0" r="4.66"/><circle class="g" cx="442.6" cy="371.0" r="4.66"/><circle class="g" cx="417.6" cy="431.3" r="4.66"/><circle class="g" cx="459.0" cy="454.9" r="4.66"/><circle class="g" cx="473.4" cy="453.4" r="4.66"/><circle class="g" cx="448.8" cy="517.6" r="4.66"/><circle class="g" cx="488.2" cy="518.0" r="4.66"/><circle class="g" cx="409.8" cy="559.8" r="4.66"/><circle class="g" cx="342.6" cy="575.0" r="4.66"/><circle class="g" cx="311.4" cy="602.5" r="4.66"/><circle class="g" cx="667.5" cy="388.9" r="4.66"/><circle class="g" cx="755.5" cy="386.4" r="4.66"/><circle class="g" cx="752.8" cy="391.5" r="4.66"/><circle class="g" cx="809.8" cy="380.9" r="4.66"/><circle class="g" cx="724.3" cy="429.9" r="4.66"/><circle class="g" cx="535.1" cy="478.4" r="4.66"/><circle class="g" cx="885.7" cy="485.2" r="4.66"/><circle class="g" cx="613.4" cy="495.3" r="4.66"/><circle class="g" cx="625.9" cy="497.5" r="4.66"/><circle class="g" cx="518.1" cy="500.8" r="4.66"/><circle class="g" cx="688.5" cy="527.7" r="4.66"/><circle class="g" cx="644.8" cy="555.3" r="4.66"/><circle class="g" cx="836.9" cy="559.0" r="4.66"/><circle class="g" cx="791.8" cy="586.7" r="4.66"/><circle class="g" cx="791.8" cy="586.7" r="4.66"/><circle class="g" cx="653.6" cy="604.7" r="4.66"/><circle class="g" cx="726.8" cy="639.4" r="4.66"/><circle class="g" cx="804.1" cy="639.0" r="4.66"/><circle class="g" cx="868.3" cy="647.6" r="4.66"/><circle class="g" cx="927.9" cy="373.5" r="4.66"/><circle class="g" cx="1000.7" cy="376.6" r="4.66"/><circle class="g" cx="1008.9" cy="377.2" r="4.66"/><circle class="g" cx="1235.5" cy="381.7" r="4.66"/><circle class="g" cx="914.0" cy="440.7" r="4.66"/><circle class="g" cx="1006.5" cy="490.3" r="4.66"/><circle class="g" cx="953.1" cy="538.1" r="4.66"/><circle class="g" cx="944.9" cy="541.2" r="4.66"/><circle class="g" cx="1013.0" cy="557.0" r="4.66"/><circle class="g" cx="1013.0" cy="557.0" r="4.66"/><circle class="g" cx="897.8" cy="559.0" r="4.66"/><circle class="g" cx="909.1" cy="565.2" r="4.66"/><circle class="g" cx="920.3" cy="571.9" r="4.66"/><circle class="g" cx="1258.6" cy="625.0" r="4.66"/><circle class="g" cx="941.3" cy="626.7" r="4.66"/><circle class="g" cx="1301.7" cy="393.0" r="4.66"/><circle class="g" cx="1301.7" cy="393.0" r="4.66"/><circle class="g" cx="1520.7" cy="480.5" r="4.66"/><circle class="g" cx="1317.7" cy="535.4" r="4.66"/><circle class="g" cx="1324.9" cy="534.8" r="4.66"/><circle class="g" cx="1322.8" cy="551.2" r="4.66"/><circle class="g" cx="1329.0" cy="551.8" r="4.66"/><circle class="g" cx="1303.9" cy="563.5" r="4.66"/><circle class="g" cx="1364.2" cy="604.1" r="4.66"/><circle class="g" cx="1367.9" cy="604.7" r="4.66"/><circle class="g" cx="334.4" cy="679.4" r="4.66"/><circle class="g" cx="402.3" cy="690.5" r="4.66"/><circle class="g" cx="413.9" cy="730.1" r="4.66"/><circle class="g" cx="308.3" cy="795.1" r="4.66"/><circle class="g" cx="295.2" cy="826.6" r="4.66"/><circle class="g" cx="349.8" cy="884.7" r="4.66"/><circle class="g" cx="358.2" cy="898.4" r="4.66"/><circle class="g" cx="413.5" cy="896.3" r="4.66"/><circle class="g" cx="467.2" cy="902.1" r="4.66"/><circle class="g" cx="446.7" cy="911.9" r="4.66"/><circle class="g" cx="424.2" cy="923.0" r="4.66"/><circle class="g" cx="223.7" cy="944.7" r="4.66"/><circle class="g" cx="556.2" cy="691.9" r="4.66"/><circle class="g" cx="556.2" cy="693.4" r="4.66"/><circle class="g" cx="743.2" cy="719.2" r="4.66"/><circle class="g" cx="804.5" cy="767.2" r="4.66"/><circle class="g" cx="618.8" cy="805.7" r="4.66"/><circle class="g" cx="592.9" cy="835.9" r="4.66"/><circle class="g" cx="592.9" cy="835.9" r="4.66"/><circle class="g" cx="692.6" cy="832.0" r="4.66"/><circle class="g" cx="825.6" cy="855.3" r="4.66"/><circle class="g" cx="850.4" cy="858.6" r="4.66"/><circle class="g" cx="602.1" cy="863.5" r="4.66"/><circle class="g" cx="602.1" cy="863.5" r="4.66"/><circle class="g" cx="558.7" cy="875.8" r="4.66"/><circle class="g" cx="682.7" cy="864.1" r="4.66"/><circle class="g" cx="498.2" cy="887.3" r="4.66"/><circle class="g" cx="631.5" cy="892.9" r="4.66"/><circle class="g" cx="806.4" cy="896.5" r="4.66"/><circle class="g" cx="834.4" cy="897.4" r="4.66"/><circle class="g" cx="834.4" cy="897.4" r="4.66"/><circle class="g" cx="687.8" cy="914.0" r="4.66"/><circle class="g" cx="797.9" cy="910.3" r="4.66"/><circle class="g" cx="530.0" cy="915.0" r="4.66"/><circle class="g" cx="822.8" cy="936.9" r="4.66"/><circle class="g" cx="609.9" cy="927.3" r="4.66"/><circle class="g" cx="989.8" cy="657.7" r="4.66"/><circle class="g" cx="989.8" cy="657.7" r="4.66"/><circle class="g" cx="907.4" cy="760.6" r="4.66"/><circle class="g" cx="1038.0" cy="777.6" r="4.66"/><circle class="g" cx="1038.0" cy="777.6" r="4.66"/><circle class="g" cx="943.3" cy="789.9" r="4.66"/><circle class="g" cx="912.6" cy="795.5" r="4.66"/><circle class="g" cx="1221.7" cy="854.9" r="4.66"/><circle class="g" cx="1114.9" cy="878.5" r="4.66"/><circle class="g" cx="1202.3" cy="890.2" r="4.66"/><circle class="g" cx="1230.3" cy="890.8" r="4.66"/><circle class="g" cx="903.7" cy="932.8" r="4.66"/><circle class="g" cx="903.7" cy="932.8" r="4.66"/><circle class="g" cx="1526.8" cy="665.9" r="4.66"/><circle class="g" cx="1533.0" cy="667.3" r="4.66"/><circle class="g" cx="1389.0" cy="685.8" r="4.66"/><circle class="g" cx="1307.4" cy="699.1" r="4.66"/><circle class="g" cx="1343.9" cy="714.9" r="4.66"/><circle class="g" cx="1347.4" cy="716.5" r="4.66"/><circle class="g" cx="1440.7" cy="743.2" r="4.66"/><circle class="g" cx="1284.9" cy="930.2" r="4.66"/><circle class="g" cx="1286.0" cy="966.7" r="4.66"/><circle class="g" cx="406.8" cy="980.7" r="4.66"/><circle class="g" cx="487.1" cy="982.1" r="4.66"/><circle class="g" cx="750.0" cy="995.6" r="4.66"/><circle class="g" cx="880.2" cy="1003.2" r="4.66"/><circle class="g" cx="599.7" cy="1035.2" r="4.66"/><circle class="g" cx="618.1" cy="1060.6" r="4.66"/><circle class="g" cx="578.2" cy="1057.9" r="4.66"/><circle class="g" cx="829.3" cy="1050.4" r="4.66"/><circle class="g" cx="847.4" cy="1075.6" r="4.66"/><circle class="g" cx="847.4" cy="1075.6" r="4.66"/><circle class="g" cx="801.0" cy="1107.8" r="4.66"/><circle class="g" cx="730.5" cy="1140.2" r="4.66"/><circle class="g" cx="1042.3" cy="985.8" r="4.66"/><circle class="g" cx="1001.7" cy="994.0" r="4.66"/><circle class="g" cx="1058.1" cy="1013.5" r="4.66"/><circle class="g" cx="1058.1" cy="1013.5" r="4.66"/><circle class="g" cx="1086.8" cy="1007.7" r="4.66"/><circle class="g" cx="1144.4" cy="984.8" r="4.66"/><circle class="g" cx="1083.7" cy="1039.1" r="4.66"/><circle class="g" cx="1048.9" cy="1094.4" r="4.66"/><circle class="g" cx="1049.9" cy="1085.2" r="4.66"/><circle class="g" cx="892.1" cy="1116.0" r="4.66"/><circle class="g" cx="947.0" cy="1127.7" r="4.66"/><circle class="g" cx="947.0" cy="1127.7" r="4.66"/><circle class="g" cx="1036.0" cy="1168.7" r="4.66"/><circle class="g" cx="760.6" cy="1262.2" r="4.66"/><circle class="g" cx="646.2" cy="1344.2" r="4.66"/><circle class="m" cx="547.0" cy="190.8" r="4.66"/><circle class="m" cx="531.4" cy="197.5" r="4.66"/><circle class="m" cx="579.6" cy="157.1" r="4.66"/><circle class="m" cx="748.7" cy="115.1" r="4.66"/><circle class="m" cx="700.1" cy="205.7" r="4.66"/><circle class="m" cx="651.1" cy="264.6" r="4.66"/><circle class="m" cx="728.9" cy="282.0" r="4.66"/><circle class="m" cx="1116.3" cy="248.4" r="4.66"/><circle class="m" cx="1181.5" cy="266.2" r="4.66"/><circle class="m" cx="1151.4" cy="276.5" r="4.66"/><circle class="m" cx="1175.8" cy="279.9" r="4.66"/><circle class="m" cx="1096.3" cy="286.1" r="4.66"/><circle class="m" cx="1111.0" cy="288.1" r="4.66"/><circle class="m" cx="1231.4" cy="264.6" r="4.66"/><circle class="m" cx="974.5" cy="322.0" r="4.66"/><circle class="m" cx="1277.0" cy="188.8" r="4.66"/><circle class="m" cx="1286.8" cy="207.4" r="4.66"/><circle class="m" cx="1278.9" cy="211.9" r="4.66"/><circle class="m" cx="1292.0" cy="221.8" r="4.66"/><circle class="m" cx="379.9" cy="390.3" r="4.66"/><circle class="m" cx="487.7" cy="458.6" r="4.66"/><circle class="m" cx="486.7" cy="475.8" r="4.66"/><circle class="m" cx="318.4" cy="527.2" r="4.66"/><circle class="m" cx="408.8" cy="527.2" r="4.66"/><circle class="m" cx="488.4" cy="567.2" r="4.66"/><circle class="m" cx="337.3" cy="597.2" r="4.66"/><circle class="m" cx="314.5" cy="603.1" r="4.66"/><circle class="m" cx="400.6" cy="604.1" r="4.66"/><circle class="m" cx="391.0" cy="611.3" r="4.66"/><circle class="m" cx="399.6" cy="620.1" r="4.66"/><circle class="m" cx="162.8" cy="632.4" r="4.66"/><circle class="m" cx="613.6" cy="408.5" r="4.66"/><circle class="m" cx="809.4" cy="404.8" r="4.66"/><circle class="m" cx="813.9" cy="400.1" r="4.66"/><circle class="m" cx="815.6" cy="403.2" r="4.66"/><circle class="m" cx="533.7" cy="418.2" r="4.66"/><circle class="m" cx="565.4" cy="433.8" r="4.66"/><circle class="m" cx="726.2" cy="495.5" r="4.66"/><circle class="m" cx="624.3" cy="494.4" r="4.66"/><circle class="m" cx="540.2" cy="545.3" r="4.66"/><circle class="m" cx="827.7" cy="555.3" r="4.66"/><circle class="m" cx="601.7" cy="564.8" r="4.66"/><circle class="m" cx="535.7" cy="579.9" r="4.66"/><circle class="m" cx="737.7" cy="587.3" r="4.66"/><circle class="m" cx="740.1" cy="591.8" r="4.66"/><circle class="m" cx="863.1" cy="651.7" r="4.66"/><circle class="m" cx="991.9" cy="364.3" r="4.66"/><circle class="m" cx="1013.0" cy="364.7" r="4.66"/><circle class="m" cx="1007.3" cy="372.0" r="4.66"/><circle class="m" cx="1126.4" cy="370.4" r="4.66"/><circle class="m" cx="1023.9" cy="464.1" r="4.66"/><circle class="m" cx="1023.9" cy="464.1" r="4.66"/><circle class="m" cx="1248.8" cy="545.1" r="4.66"/><circle class="m" cx="962.2" cy="547.1" r="4.66"/><circle class="m" cx="1119.6" cy="558.6" r="4.66"/><circle class="m" cx="1168.2" cy="582.0" r="4.66"/><circle class="m" cx="1120.2" cy="587.7" r="4.66"/><circle class="m" cx="1131.9" cy="593.9" r="4.66"/><circle class="m" cx="1246.7" cy="591.8" r="4.66"/><circle class="m" cx="934.7" cy="625.7" r="4.66"/><circle class="m" cx="1300.3" cy="511.5" r="4.66"/><circle class="m" cx="1331.0" cy="517.0" r="4.66"/><circle class="m" cx="1294.1" cy="540.2" r="4.66"/><circle class="m" cx="1315.6" cy="547.3" r="4.66"/><circle class="m" cx="1339.2" cy="552.5" r="4.66"/><circle class="m" cx="1293.1" cy="568.2" r="4.66"/><circle class="m" cx="1498.7" cy="551.2" r="4.66"/><circle class="m" cx="319.6" cy="659.1" r="4.66"/><circle class="m" cx="338.1" cy="693.6" r="4.66"/><circle class="m" cx="378.7" cy="734.0" r="4.66"/><circle class="m" cx="420.1" cy="770.5" r="4.66"/><circle class="m" cx="304.9" cy="792.6" r="4.66"/><circle class="m" cx="393.4" cy="852.5" r="4.66"/><circle class="m" cx="201.3" cy="922.6" r="4.66"/><circle class="m" cx="186.8" cy="949.2" r="4.66"/><circle class="m" cx="707.3" cy="667.3" r="4.66"/><circle class="m" cx="730.9" cy="779.5" r="4.66"/><circle class="m" cx="549.9" cy="776.2" r="4.66"/><circle class="m" cx="595.2" cy="791.0" r="4.66"/><circle class="m" cx="496.2" cy="796.1" r="4.66"/><circle class="m" cx="784.6" cy="796.7" r="4.66"/><circle class="m" cx="709.0" cy="837.9" r="4.66"/><circle class="m" cx="771.9" cy="847.3" r="4.66"/><circle class="m" cx="818.4" cy="846.3" r="4.66"/><circle class="m" cx="668.4" cy="851.4" r="4.66"/><circle class="m" cx="653.0" cy="852.5" r="4.66"/><circle class="m" cx="659.8" cy="871.7" r="4.66"/><circle class="m" cx="748.7" cy="881.0" r="4.66"/><circle class="m" cx="963.8" cy="665.9" r="4.66"/><circle class="m" cx="1147.3" cy="656.5" r="4.66"/><circle class="m" cx="1179.7" cy="694.4" r="4.66"/><circle class="m" cx="1049.5" cy="720.0" r="4.66"/><circle class="m" cx="920.8" cy="856.4" r="4.66"/><circle class="m" cx="1104.7" cy="852.9" r="4.66"/><circle class="m" cx="1141.2" cy="865.0" r="4.66"/><circle class="m" cx="1114.5" cy="874.4" r="4.66"/><circle class="m" cx="1543.2" cy="666.7" r="4.66"/><circle class="m" cx="1296.2" cy="873.8" r="4.66"/><circle class="m" cx="1272.6" cy="921.6" r="4.66"/><circle class="m" cx="406.4" cy="961.8" r="4.66"/><circle class="m" cx="461.1" cy="958.5" r="4.66"/><circle class="m" cx="268.0" cy="974.1" r="4.66"/><circle class="m" cx="277.6" cy="979.6" r="4.66"/><circle class="m" cx="466.2" cy="1020.0" r="4.66"/><circle class="m" cx="419.9" cy="1072.9" r="4.66"/><circle class="m" cx="432.4" cy="1196.3" r="4.66"/><circle class="m" cx="712.9" cy="960.8" r="4.66"/><circle class="m" cx="595.2" cy="989.3" r="4.66"/><circle class="m" cx="844.7" cy="980.7" r="4.66"/><circle class="m" cx="590.5" cy="1035.6" r="4.66"/><circle class="m" cx="587.4" cy="1038.1" r="4.66"/><circle class="m" cx="626.3" cy="1052.0" r="4.66"/><circle class="m" cx="578.2" cy="1070.5" r="4.66"/><circle class="m" cx="796.5" cy="1178.5" r="4.66"/><circle class="m" cx="755.1" cy="1240.0" r="4.66"/><circle class="m" cx="912.1" cy="988.4" r="4.66"/><circle class="m" cx="1019.8" cy="981.1" r="4.66"/><circle class="m" cx="931.4" cy="1027.8" r="4.66"/><circle class="m" cx="1225.8" cy="1110.8" r="4.66"/><circle class="m" cx="1281.2" cy="1093.8" r="4.66"/><circle class="m" cx="1121.7" cy="1122.1" r="4.66"/><circle class="m" cx="1198.1" cy="1117.4" r="4.66"/><circle class="m" cx="1090.9" cy="1146.7" r="4.66"/><circle class="m" cx="994.6" cy="1246.2" r="4.66"/><circle class="l" cx="533.7" cy="140.1" r="4.66"/><circle class="l" cx="534.1" cy="142.8" r="4.66"/><circle class="l" cx="530.0" cy="194.0" r="4.66"/><circle class="l" cx="542.9" cy="201.8" r="4.66"/><circle class="l" cx="590.5" cy="155.9" r="4.66"/><circle class="l" cx="735.6" cy="138.3" r="4.66"/><circle class="l" cx="760.2" cy="138.1" r="4.66"/><circle class="l" cx="784.6" cy="150.4" r="4.66"/><circle class="l" cx="785.2" cy="158.4" r="4.66"/><circle class="l" cx="790.8" cy="227.0" r="4.66"/><circle class="l" cx="515.6" cy="337.5" r="4.66"/><circle class="l" cx="1055.0" cy="192.4" r="4.66"/><circle class="l" cx="993.9" cy="242.6" r="4.66"/><circle class="l" cx="1124.8" cy="232.0" r="4.66"/><circle class="l" cx="1182.6" cy="247.3" r="4.66"/><circle class="l" cx="1086.2" cy="268.0" r="4.66"/><circle class="l" cx="1289.7" cy="199.2" r="4.66"/><circle class="l" cx="1280.5" cy="201.5" r="4.66"/><circle class="l" cx="1297.1" cy="227.9" r="4.66"/><circle class="l" cx="1294.4" cy="234.2" r="4.66"/><circle class="l" cx="413.1" cy="463.3" r="4.66"/><circle class="l" cx="325.8" cy="541.2" r="4.66"/><circle class="l" cx="327.8" cy="561.5" r="4.66"/><circle class="l" cx="325.8" cy="563.9" r="4.66"/><circle class="l" cx="358.2" cy="572.3" r="4.66"/><circle class="l" cx="374.0" cy="577.1" r="4.66"/><circle class="l" cx="391.8" cy="580.6" r="4.66"/><circle class="l" cx="453.9" cy="623.6" r="4.66"/><circle class="l" cx="564.8" cy="365.3" r="4.66"/><circle class="l" cx="576.7" cy="363.6" r="4.66"/><circle class="l" cx="713.5" cy="370.0" r="4.66"/><circle class="l" cx="757.1" cy="381.9" r="4.66"/><circle class="l" cx="817.0" cy="383.7" r="4.66"/><circle class="l" cx="874.4" cy="388.2" r="4.66"/><circle class="l" cx="609.5" cy="412.8" r="4.66"/><circle class="l" cx="507.0" cy="421.2" r="4.66"/><circle class="l" cx="511.1" cy="439.1" r="4.66"/><circle class="l" cx="599.3" cy="429.0" r="4.66"/><circle class="l" cx="623.3" cy="436.0" r="4.66"/><circle class="l" cx="492.7" cy="445.6" r="4.66"/><circle class="l" cx="501.3" cy="449.3" r="4.66"/><circle class="l" cx="619.2" cy="449.5" r="4.66"/><circle class="l" cx="636.0" cy="448.1" r="4.66"/><circle class="l" cx="590.1" cy="472.1" r="4.66"/><circle class="l" cx="544.1" cy="486.4" r="4.66"/><circle class="l" cx="630.0" cy="520.5" r="4.66"/><circle class="l" cx="590.5" cy="525.4" r="4.66"/><circle class="l" cx="578.6" cy="531.3" r="4.66"/><circle class="l" cx="580.2" cy="534.4" r="4.66"/><circle class="l" cx="530.6" cy="541.2" r="4.66"/><circle class="l" cx="539.2" cy="542.2" r="4.66"/><circle class="l" cx="644.8" cy="555.3" r="4.66"/><circle class="l" cx="774.0" cy="529.3" r="4.66"/><circle class="l" cx="840.2" cy="561.1" r="4.66"/><circle class="l" cx="553.1" cy="604.1" r="4.66"/><circle class="l" cx="851.3" cy="577.1" r="4.66"/><circle class="l" cx="765.1" cy="633.9" r="4.66"/><circle class="l" cx="843.0" cy="650.3" r="4.66"/><circle class="l" cx="998.7" cy="363.2" r="4.66"/><circle class="l" cx="1001.7" cy="363.8" r="4.66"/><circle class="l" cx="1237.5" cy="383.7" r="4.66"/><circle class="l" cx="914.0" cy="440.7" r="4.66"/><circle class="l" cx="1011.6" cy="440.1" r="4.66"/><circle class="l" cx="1019.2" cy="480.3" r="4.66"/><circle class="l" cx="1005.2" cy="486.2" r="4.66"/><circle class="l" cx="1120.7" cy="574.4" r="4.66"/><circle class="l" cx="1125.2" cy="579.1" r="4.66"/><circle class="l" cx="929.6" cy="600.4" r="4.66"/><circle class="l" cx="1286.7" cy="638.0" r="4.66"/><circle class="l" cx="1293.1" cy="452.8" r="4.66"/><circle class="l" cx="1520.7" cy="480.5" r="4.66"/><circle class="l" cx="1296.2" cy="514.3" r="4.66"/><circle class="l" cx="1296.2" cy="555.3" r="4.66"/><circle class="l" cx="1316.7" cy="561.1" r="4.66"/><circle class="l" cx="1320.8" cy="568.2" r="4.66"/><circle class="l" cx="1312.1" cy="575.8" r="4.66"/><circle class="l" cx="1323.2" cy="585.1" r="4.66"/><circle class="l" cx="1487.8" cy="539.5" r="4.66"/><circle class="l" cx="1485.4" cy="544.3" r="4.66"/><circle class="l" cx="1485.8" cy="547.1" r="4.66"/><circle class="l" cx="1493.6" cy="550.8" r="4.66"/><circle class="l" cx="1352.1" cy="602.1" r="4.66"/><circle class="l" cx="1315.2" cy="619.1" r="4.66"/><circle class="l" cx="1292.1" cy="640.0" r="4.66"/><circle class="l" cx="378.9" cy="679.2" r="4.66"/><circle class="l" cx="429.7" cy="703.6" r="4.66"/><circle class="l" cx="387.3" cy="707.9" r="4.66"/><circle class="l" cx="412.9" cy="712.0" r="4.66"/><circle class="l" cx="432.0" cy="712.0" r="4.66"/><circle class="l" cx="380.3" cy="786.6" r="4.66"/><circle class="l" cx="437.9" cy="818.6" r="4.66"/><circle class="l" cx="430.3" cy="835.4" r="4.66"/><circle class="l" cx="480.2" cy="882.4" r="4.66"/><circle class="l" cx="464.6" cy="903.7" r="4.66"/><circle class="l" cx="783.6" cy="686.8" r="4.66"/><circle class="l" cx="807.2" cy="691.9" r="4.66"/><circle class="l" cx="828.3" cy="715.1" r="4.66"/><circle class="l" cx="859.7" cy="724.3" r="4.66"/><circle class="l" cx="585.3" cy="726.2" r="4.66"/><circle class="l" cx="588.8" cy="735.0" r="4.66"/><circle class="l" cx="717.0" cy="744.2" r="4.66"/><circle class="l" cx="509.5" cy="752.0" r="4.66"/><circle class="l" cx="682.7" cy="779.3" r="4.66"/><circle class="l" cx="531.0" cy="771.5" r="4.66"/><circle class="l" cx="537.2" cy="772.5" r="4.66"/><circle class="l" cx="549.5" cy="793.4" r="4.66"/><circle class="l" cx="767.8" cy="796.9" r="4.66"/><circle class="l" cx="708.3" cy="800.4" r="4.66"/><circle class="l" cx="885.3" cy="810.8" r="4.66"/><circle class="l" cx="792.4" cy="822.1" r="4.66"/><circle class="l" cx="765.3" cy="827.7" r="4.66"/><circle class="l" cx="712.5" cy="837.5" r="4.66"/><circle class="l" cx="819.1" cy="835.9" r="4.66"/><circle class="l" cx="864.8" cy="835.4" r="4.66"/><circle class="l" cx="756.1" cy="853.9" r="4.66"/><circle class="l" cx="786.7" cy="855.9" r="4.66"/><circle class="l" cx="505.4" cy="868.7" r="4.66"/><circle class="l" cx="632.5" cy="863.7" r="4.66"/><circle class="l" cx="556.6" cy="872.8" r="4.66"/><circle class="l" cx="683.1" cy="872.3" r="4.66"/><circle class="l" cx="780.7" cy="875.8" r="4.66"/><circle class="l" cx="652.6" cy="891.8" r="4.66"/><circle class="l" cx="657.7" cy="901.7" r="4.66"/><circle class="l" cx="678.6" cy="911.3" r="4.66"/><circle class="l" cx="737.1" cy="911.3" r="4.66"/><circle class="l" cx="741.2" cy="914.0" r="4.66"/><circle class="l" cx="654.6" cy="933.9" r="4.66"/><circle class="l" cx="678.6" cy="942.1" r="4.66"/><circle class="l" cx="1028.4" cy="702.2" r="4.66"/><circle class="l" cx="1026.3" cy="711.4" r="4.66"/><circle class="l" cx="959.1" cy="735.4" r="4.66"/><circle class="l" cx="971.0" cy="742.6" r="4.66"/><circle class="l" cx="927.9" cy="782.1" r="4.66"/><circle class="l" cx="1283.6" cy="789.3" r="4.66"/><circle class="l" cx="943.7" cy="831.3" r="4.66"/><circle class="l" cx="943.3" cy="835.4" r="4.66"/><circle class="l" cx="1253.9" cy="831.3" r="4.66"/><circle class="l" cx="1050.5" cy="869.3" r="4.66"/><circle class="l" cx="966.3" cy="888.8" r="4.66"/><circle class="l" cx="996.6" cy="899.0" r="4.66"/><circle class="l" cx="986.0" cy="914.4" r="4.66"/><circle class="l" cx="1003.2" cy="916.8" r="4.66"/><circle class="l" cx="1082.7" cy="891.8" r="4.66"/><circle class="l" cx="918.1" cy="938.2" r="4.66"/><circle class="l" cx="1128.9" cy="935.5" r="4.66"/><circle class="l" cx="1335.5" cy="675.9" r="4.66"/><circle class="l" cx="1307.8" cy="706.9" r="4.66"/><circle class="l" cx="1282.9" cy="947.4" r="4.66"/><circle class="l" cx="208.9" cy="956.5" r="4.66"/><circle class="l" cx="277.0" cy="976.1" r="4.66"/><circle class="l" cx="487.1" cy="982.1" r="4.66"/><circle class="l" cx="416.6" cy="1199.0" r="4.66"/><circle class="l" cx="422.5" cy="1206.2" r="4.66"/><circle class="l" cx="636.2" cy="964.7" r="4.66"/><circle class="l" cx="546.4" cy="995.0" r="4.66"/><circle class="l" cx="555.6" cy="1003.8" r="4.66"/><circle class="l" cx="572.0" cy="1044.6" r="4.66"/><circle class="l" cx="632.5" cy="1041.7" r="4.66"/><circle class="l" cx="572.0" cy="1068.2" r="4.66"/><circle class="l" cx="545.4" cy="1087.3" r="4.66"/><circle class="l" cx="517.7" cy="1140.6" r="4.66"/><circle class="l" cx="675.1" cy="1136.5" r="4.66"/><circle class="l" cx="675.1" cy="1136.5" r="4.66"/><circle class="l" cx="848.2" cy="1145.3" r="4.66"/><circle class="l" cx="673.1" cy="1238.0" r="4.66"/><circle class="l" cx="765.3" cy="1252.9" r="4.66"/><circle class="l" cx="925.3" cy="974.1" r="4.66"/><circle class="l" cx="1124.8" cy="973.1" r="4.66"/><circle class="l" cx="1075.5" cy="1055.1" r="4.66"/><circle class="l" cx="1049.9" cy="1085.2" r="4.66"/><circle class="l" cx="1134.6" cy="1108.2" r="4.66"/><circle class="l" cx="1203.7" cy="1129.7" r="4.66"/><circle class="l" cx="1039.3" cy="1168.9" r="4.66"/><circle class="l" cx="1295.5" cy="1065.7" r="4.66"/><circle class="l" cx="1292.1" cy="1093.4" r="4.66"/><circle class="l" cx="650.9" cy="1335.4" r="4.66"/><circle class="l" cx="645.2" cy="1345.6" r="4.66"/><circle class="k" cx="740.5" cy="137.2" r="4.66"/><circle class="k" cx="771.5" cy="147.7" r="4.66"/><circle class="k" cx="740.5" cy="211.0" r="4.66"/><circle class="k" cx="741.2" cy="211.9" r="4.66"/><circle class="k" cx="714.3" cy="282.2" r="4.66"/><circle class="k" cx="501.3" cy="350.7" r="4.66"/><circle class="k" cx="915.6" cy="246.9" r="4.66"/><circle class="k" cx="1000.7" cy="250.4" r="4.66"/><circle class="k" cx="1000.7" cy="251.8" r="4.66"/><circle class="k" cx="1113.9" cy="262.1" r="4.66"/><circle class="k" cx="1001.7" cy="342.7" r="4.66"/><circle class="k" cx="1123.1" cy="349.2" r="4.66"/><circle class="k" cx="1123.1" cy="349.2" r="4.66"/><circle class="k" cx="1282.3" cy="183.9" r="4.66"/><circle class="k" cx="401.2" cy="455.3" r="4.66"/><circle class="k" cx="446.1" cy="465.7" r="4.66"/><circle class="k" cx="309.4" cy="507.2" r="4.66"/><circle class="k" cx="350.8" cy="586.7" r="4.66"/><circle class="k" cx="448.8" cy="639.0" r="4.66"/><circle class="k" cx="165.4" cy="632.4" r="4.66"/><circle class="k" cx="710.6" cy="387.0" r="4.66"/><circle class="k" cx="840.6" cy="393.2" r="4.66"/><circle class="k" cx="576.7" cy="397.7" r="4.66"/><circle class="k" cx="852.5" cy="406.3" r="4.66"/><circle class="k" cx="529.0" cy="420.6" r="4.66"/><circle class="k" cx="572.0" cy="463.1" r="4.66"/><circle class="k" cx="501.7" cy="498.3" r="4.66"/><circle class="k" cx="725.8" cy="488.3" r="4.66"/><circle class="k" cx="747.3" cy="491.8" r="4.66"/><circle class="k" cx="832.4" cy="489.3" r="4.66"/><circle class="k" cx="798.1" cy="528.9" r="4.66"/><circle class="k" cx="534.1" cy="591.2" r="4.66"/><circle class="k" cx="534.1" cy="591.2" r="4.66"/><circle class="k" cx="689.9" cy="592.2" r="4.66"/><circle class="k" cx="768.0" cy="587.7" r="4.66"/><circle class="k" cx="768.0" cy="587.7" r="4.66"/><circle class="k" cx="866.8" cy="607.0" r="4.66"/><circle class="k" cx="662.2" cy="629.8" r="4.66"/><circle class="k" cx="683.3" cy="644.3" r="4.66"/><circle class="k" cx="1083.7" cy="501.8" r="4.66"/><circle class="k" cx="1285.7" cy="544.3" r="4.66"/><circle class="k" cx="1277.1" cy="564.1" r="4.66"/><circle class="k" cx="1127.2" cy="584.0" r="4.66"/><circle class="k" cx="1137.1" cy="589.8" r="4.66"/><circle class="k" cx="1384.3" cy="524.8" r="4.66"/><circle class="k" cx="1307.4" cy="550.8" r="4.66"/><circle class="k" cx="1308.5" cy="555.9" r="4.66"/><circle class="k" cx="1302.7" cy="571.3" r="4.66"/><circle class="k" cx="1339.8" cy="570.7" r="4.66"/><circle class="k" cx="1470.0" cy="557.0" r="4.66"/><circle class="k" cx="1315.2" cy="617.0" r="4.66"/><circle class="k" cx="411.5" cy="745.6" r="4.66"/><circle class="k" cx="482.6" cy="843.6" r="4.66"/><circle class="k" cx="361.9" cy="904.1" r="4.66"/><circle class="k" cx="200.7" cy="939.0" r="4.66"/><circle class="k" cx="218.1" cy="939.4" r="4.66"/><circle class="k" cx="759.0" cy="679.6" r="4.66"/><circle class="k" cx="738.5" cy="709.8" r="4.66"/><circle class="k" cx="816.4" cy="712.0" r="4.66"/><circle class="k" cx="697.1" cy="729.2" r="4.66"/><circle class="k" cx="705.3" cy="751.0" r="4.66"/><circle class="k" cx="816.6" cy="743.6" r="4.66"/><circle class="k" cx="816.6" cy="743.6" r="4.66"/><circle class="k" cx="647.5" cy="746.7" r="4.66"/><circle class="k" cx="594.6" cy="789.7" r="4.66"/><circle class="k" cx="527.9" cy="804.7" r="4.66"/><circle class="k" cx="739.5" cy="816.0" r="4.66"/><circle class="k" cx="509.1" cy="848.8" r="4.66"/><circle class="k" cx="712.9" cy="873.8" r="4.66"/><circle class="k" cx="668.0" cy="877.9" r="4.66"/><circle class="k" cx="659.1" cy="904.5" r="4.66"/><circle class="k" cx="686.4" cy="916.8" r="4.66"/><circle class="k" cx="746.3" cy="912.3" r="4.66"/><circle class="k" cx="870.3" cy="915.0" r="4.66"/><circle class="k" cx="543.7" cy="924.2" r="4.66"/><circle class="k" cx="704.2" cy="934.5" r="4.66"/><circle class="k" cx="925.3" cy="698.7" r="4.66"/><circle class="k" cx="1177.0" cy="712.4" r="4.66"/><circle class="k" cx="959.1" cy="735.4" r="4.66"/><circle class="k" cx="1266.8" cy="777.0" r="4.66"/><circle class="k" cx="1266.8" cy="777.0" r="4.66"/><circle class="k" cx="993.9" cy="812.3" r="4.66"/><circle class="k" cx="1251.3" cy="830.7" r="4.66"/><circle class="k" cx="1236.5" cy="844.1" r="4.66"/><circle class="k" cx="1236.5" cy="844.1" r="4.66"/><circle class="k" cx="1050.5" cy="869.3" r="4.66"/><circle class="k" cx="922.8" cy="888.8" r="4.66"/><circle class="k" cx="922.8" cy="888.8" r="4.66"/><circle class="k" cx="894.1" cy="909.3" r="4.66"/><circle class="k" cx="910.9" cy="908.6" r="4.66"/><circle class="k" cx="1425.7" cy="776.4" r="4.66"/><circle class="k" cx="1483.7" cy="814.9" r="4.66"/><circle class="k" cx="1358.3" cy="855.9" r="4.66"/><circle class="k" cx="1390.1" cy="925.7" r="4.66"/><circle class="k" cx="371.9" cy="966.3" r="4.66"/><circle class="k" cx="396.5" cy="974.9" r="4.66"/><circle class="k" cx="483.0" cy="1089.9" r="4.66"/><circle class="k" cx="443.0" cy="1184.7" r="4.66"/><circle class="k" cx="632.1" cy="1010.0" r="4.66"/><circle class="k" cx="703.2" cy="987.8" r="4.66"/><circle class="k" cx="683.7" cy="1024.7" r="4.66"/><circle class="k" cx="499.6" cy="1055.1" r="4.66"/><circle class="k" cx="797.1" cy="1180.6" r="4.66"/><circle class="k" cx="625.3" cy="1199.4" r="4.66"/><circle class="k" cx="904.8" cy="989.3" r="4.66"/><circle class="k" cx="965.4" cy="977.6" r="4.66"/><circle class="k" cx="1024.3" cy="972.5" r="4.66"/><circle class="k" cx="1024.3" cy="975.5" r="4.66"/><circle class="k" cx="1134.0" cy="976.1" r="4.66"/><circle class="k" cx="1123.7" cy="1164.1" r="4.66"/><circle class="k" cx="1041.7" cy="1169.3" r="4.66"/><circle class="k" cx="1292.5" cy="1031.9" r="4.66"/><circle class="y" cx="527.9" cy="173.7" r="4.66"/><circle class="y" cx="548.8" cy="170.9" r="4.66"/><circle class="y" cx="546.4" cy="173.5" r="4.66"/><circle class="y" cx="804.5" cy="161.0" r="4.66"/><circle class="y" cx="754.9" cy="206.7" r="4.66"/><circle class="y" cx="753.2" cy="208.2" r="4.66"/><circle class="y" cx="712.7" cy="281.0" r="4.66"/><circle class="y" cx="730.9" cy="322.2" r="4.66"/><circle class="y" cx="513.8" cy="342.3" r="4.66"/><circle class="y" cx="1026.1" cy="250.2" r="4.66"/><circle class="y" cx="1299.5" cy="216.8" r="4.66"/><circle class="y" cx="481.6" cy="451.0" r="4.66"/><circle class="y" cx="325.4" cy="539.5" r="4.66"/><circle class="y" cx="420.1" cy="557.4" r="4.66"/><circle class="y" cx="318.8" cy="604.1" r="4.66"/><circle class="y" cx="322.1" cy="648.2" r="4.66"/><circle class="y" cx="165.0" cy="629.8" r="4.66"/><circle class="y" cx="567.5" cy="366.9" r="4.66"/><circle class="y" cx="720.7" cy="369.2" r="4.66"/><circle class="y" cx="817.6" cy="381.5" r="4.66"/><circle class="y" cx="837.7" cy="381.7" r="4.66"/><circle class="y" cx="555.6" cy="397.7" r="4.66"/><circle class="y" cx="597.4" cy="410.6" r="4.66"/><circle class="y" cx="822.1" cy="401.4" r="4.66"/><circle class="y" cx="596.6" cy="431.5" r="4.66"/><circle class="y" cx="619.2" cy="439.1" r="4.66"/><circle class="y" cx="793.4" cy="432.7" r="4.66"/><circle class="y" cx="511.5" cy="459.2" r="4.66"/><circle class="y" cx="747.9" cy="493.4" r="4.66"/><circle class="y" cx="627.8" cy="490.3" r="4.66"/><circle class="y" cx="555.6" cy="501.2" r="4.66"/><circle class="y" cx="630.4" cy="530.3" r="4.66"/><circle class="y" cx="596.0" cy="537.1" r="4.66"/><circle class="y" cx="506.0" cy="545.7" r="4.66"/><circle class="y" cx="801.6" cy="529.9" r="4.66"/><circle class="y" cx="883.2" cy="551.8" r="4.66"/><circle class="y" cx="724.8" cy="576.5" r="4.66"/><circle class="y" cx="592.9" cy="653.3" r="4.66"/><circle class="y" cx="1125.8" cy="361.8" r="4.66"/><circle class="y" cx="1277.1" cy="560.7" r="4.66"/><circle class="y" cx="1274.4" cy="571.9" r="4.66"/><circle class="y" cx="1117.2" cy="592.9" r="4.66"/><circle class="y" cx="1140.1" cy="652.9" r="4.66"/><circle class="y" cx="1476.2" cy="522.7" r="4.66"/><circle class="y" cx="1363.8" cy="518.6" r="4.66"/><circle class="y" cx="1337.6" cy="546.3" r="4.66"/><circle class="y" cx="1304.4" cy="589.2" r="4.66"/><circle class="y" cx="319.6" cy="666.3" r="4.66"/><circle class="y" cx="319.6" cy="666.3" r="4.66"/><circle class="y" cx="354.9" cy="662.8" r="4.66"/><circle class="y" cx="391.8" cy="686.4" r="4.66"/><circle class="y" cx="413.5" cy="714.5" r="4.66"/><circle class="y" cx="484.1" cy="800.0" r="4.66"/><circle class="y" cx="427.9" cy="821.1" r="4.66"/><circle class="y" cx="449.2" cy="816.4" r="4.66"/><circle class="y" cx="452.5" cy="815.4" r="4.66"/><circle class="y" cx="418.0" cy="905.6" r="4.66"/><circle class="y" cx="517.7" cy="660.2" r="4.66"/><circle class="y" cx="662.2" cy="694.6" r="4.66"/><circle class="y" cx="660.6" cy="698.1" r="4.66"/><circle class="y" cx="551.5" cy="708.5" r="4.66"/><circle class="y" cx="503.9" cy="745.6" r="4.66"/><circle class="y" cx="782.8" cy="771.5" r="4.66"/><circle class="y" cx="536.1" cy="788.1" r="4.66"/><circle class="y" cx="764.1" cy="785.6" r="4.66"/><circle class="y" cx="886.7" cy="776.0" r="4.66"/><circle class="y" cx="835.1" cy="817.4" r="4.66"/><circle class="y" cx="835.5" cy="827.9" r="4.66"/><circle class="y" cx="802.7" cy="830.7" r="4.66"/><circle class="y" cx="536.1" cy="835.4" r="4.66"/><circle class="y" cx="781.1" cy="839.1" r="4.66"/><circle class="y" cx="786.3" cy="838.5" r="4.66"/><circle class="y" cx="657.7" cy="858.0" r="4.66"/><circle class="y" cx="643.8" cy="914.0" r="4.66"/><circle class="y" cx="770.9" cy="908.6" r="4.66"/><circle class="y" cx="808.8" cy="912.9" r="4.66"/><circle class="y" cx="1180.7" cy="703.2" r="4.66"/><circle class="y" cx="972.0" cy="749.3" r="4.66"/><circle class="y" cx="925.9" cy="782.1" r="4.66"/><circle class="y" cx="1238.5" cy="796.5" r="4.66"/><circle class="y" cx="893.1" cy="871.9" r="4.66"/><circle class="y" cx="1184.4" cy="888.8" r="4.66"/><circle class="y" cx="902.7" cy="905.2" r="4.66"/><circle class="y" cx="1224.2" cy="928.7" r="4.66"/><circle class="y" cx="1355.6" cy="724.7" r="4.66"/><circle class="y" cx="1274.7" cy="955.2" r="4.66"/><circle class="y" cx="368.2" cy="994.0" r="4.66"/><circle class="y" cx="425.2" cy="1185.7" r="4.66"/><circle class="y" cx="443.0" cy="1184.7" r="4.66"/><circle class="y" cx="496.2" cy="1020.6" r="4.66"/><circle class="y" cx="627.0" cy="1042.8" r="4.66"/><circle class="y" cx="781.1" cy="1034.0" r="4.66"/><circle class="y" cx="945.8" cy="1020.6" r="4.66"/><circle class="y" cx="996.0" cy="1029.2" r="4.66"/><circle class="y" cx="1303.3" cy="1046.3" r="4.66"/>
</g>
<text class="an" x="839.5" y="352.7">виш</text>
<text class="an" x="1113.4" y="211.2">и</text>
<text class="an" x="1279.7" y="289.7">Баянар</text>
<text class="an" x="1279.7" y="290.6">Элячӏунар</text>
<text class="an" x="1283.5" y="294.9">&lt;/s></text>
<text class="an" x="965.0" y="541.6">Дагъустан</text>
<text class="an" x="725.3" y="489.7">тӀвар</text>
<text class="an" x="683.3" y="585.1">лезги</text>
<text class="an" x="916.2" y="363.0">йис</text>
<text class="an" x="917.2" y="385.6">йисан</text>
<text class="an" x="949.4" y="426.9">—</text>
<text class="an" x="968.9" y="461.0">()</text>
<text class="an" x="1214.5" y="617.4">тир</text>
<text class="an" x="1224.7" y="625.0">тир.</text>
<text class="an" x="1421.8" y="462.7">1</text>
<text class="an" x="1399.2" y="573.8">кас</text>
<text class="an" x="1529.4" y="537.5">на</text>
<text class="an" x="1535.6" y="555.7">по</text>
<text class="an" x="1551.5" y="594.7">населения</text>
<text class="an" x="182.2" y="942.5">чӀал</text>
<text class="an" x="667.3" y="679.0">сад</text>
<text class="an" x="718.5" y="696.0">са</text>
<text class="an" x="789.5" y="687.2">алай</text>
<text class="an" x="781.3" y="734.8">чӀехи</text>
<text class="an" x="751.5" y="745.6">ва</text>
<text class="an" x="824.7" y="749.7">вири</text>
<text class="an" x="668.3" y="765.7">ам</text>
<text class="an" x="816.5" y="952.3">пара</text>
<text class="an" x="1094.1" y="793.8">авай</text>
<text class="an" x="1119.8" y="917.9">хуьруьн</text>
<text class="an" x="1480.2" y="708.1">килигна</text>
<text class="an" x="1434.5" y="744.6">Агьалияр</text>
<text class="an" x="1426.9" y="747.7">агьалияр</text>
<text class="an" x="1480.2" y="798.9">уьмуьр</text>
<text class="an" x="1301.8" y="837.5">%)</text>
<text class="an" x="1266.4" y="920.5">хуьр</text>
<text class="an" x="1283.6" y="934.3">хуьрер</text>
<text class="an" x="1274.8" y="959.7">хуьре</text>
<text class="an" x="1206.3" y="979.8">География</text>
<text class="an" x="359.5" y="990.9">хьана.</text>
<text class="an" x="782.7" y="984.3">я.</text>
<text class="an" x="574.6" y="1192.2">йисуз</text>
<text class="an" x="873.9" y="1207.6">кьилин</text>
<text class="an" x="1202.2" y="985.6">юкь</text>
<text class="an" x="1127.4" y="1035.0">пата,</text>
<text class="an" x="1205.3" y="1176.4">галаз</text>
<text class="an" x="1034.1" y="1227.7">пата</text>
<text class="an" x="1276.9" y="1045.5">районда</text>
<text class="an" x="1284.3" y="1055.8">райондин</text>
<text class="an" x="801.7" y="987.9">-</text>
<rect x="92" y="54" width="1582" height="1353" fill="none" stroke="#cccccc" stroke-width="2"/>
<rect x="1773" y="54" width="67" height="1353" fill="url(#cb)" fill-opacity=".6" stroke="#cccccc" stroke-width="2.2"/>
<text class="tk" x="1855" y="1414.9">0</text>
<text class="tk" x="1855" y="1245.7">250</text>
<text class="tk" x="1855" y="1076.5">500</text>
<text class="tk" x="1855" y="907.3">750</text>
<text class="tk" x="1855" y="738.1">1000</text>
<text class="tk" x="1855" y="568.9">1250</text>
<text class="tk" x="1855" y="399.6">1500</text>
<text class="tk" x="1855" y="230.4">1750</text>
<path d="M1840 1407.0 h7.3 M1840 1237.8 h7.3 M1840 1068.6 h7.3 M1840 899.4 h7.3 M1840 730.2 h7.3 M1840 561.0 h7.3 M1840 391.7 h7.3 M1840 222.5 h7.3" stroke="#262626" stroke-width="1.8" fill="none"/>
<text class="al" transform="translate(1930.5,730.5) rotate(-90)" text-anchor="middle">Word Rank (by frequency)</text>
<text class="tk" x="213.9" y="1438.5" text-anchor="middle">-60</text>
<text class="tk" x="430.6" y="1438.5" text-anchor="middle">-40</text>
<text class="tk" x="647.3" y="1438.5" text-anchor="middle">-20</text>
<text class="tk" x="864.0" y="1438.5" text-anchor="middle">0</text>
<text class="tk" x="1080.7" y="1438.5" text-anchor="middle">20</text>
<text class="tk" x="1297.4" y="1438.5" text-anchor="middle">40</text>
<text class="tk" x="1514.1" y="1438.5" text-anchor="middle">60</text>
<text class="tk" x="77.3" y="1221.3" text-anchor="end">-40</text>
<text class="tk" x="77.3" y="969.3" text-anchor="end">-20</text>
<text class="tk" x="77.3" y="717.3" text-anchor="end">0</text>
<text class="tk" x="77.3" y="465.3" text-anchor="end">20</text>
<text class="tk" x="77.3" y="213.3" text-anchor="end">40</text>
<text class="al" x="883" y="1466.2" text-anchor="middle">t-SNE Dimension 1</text>
<text class="al" transform="translate(31,731.5) rotate(-90)" text-anchor="middle">t-SNE Dimension 2</text>
<text x="883.8" y="41" text-anchor="middle" style="font-size:33.42px;font-weight:bold">t-SNE Visualization of Word Embeddings (2000 words)</text>
</svg>
</body></html>
